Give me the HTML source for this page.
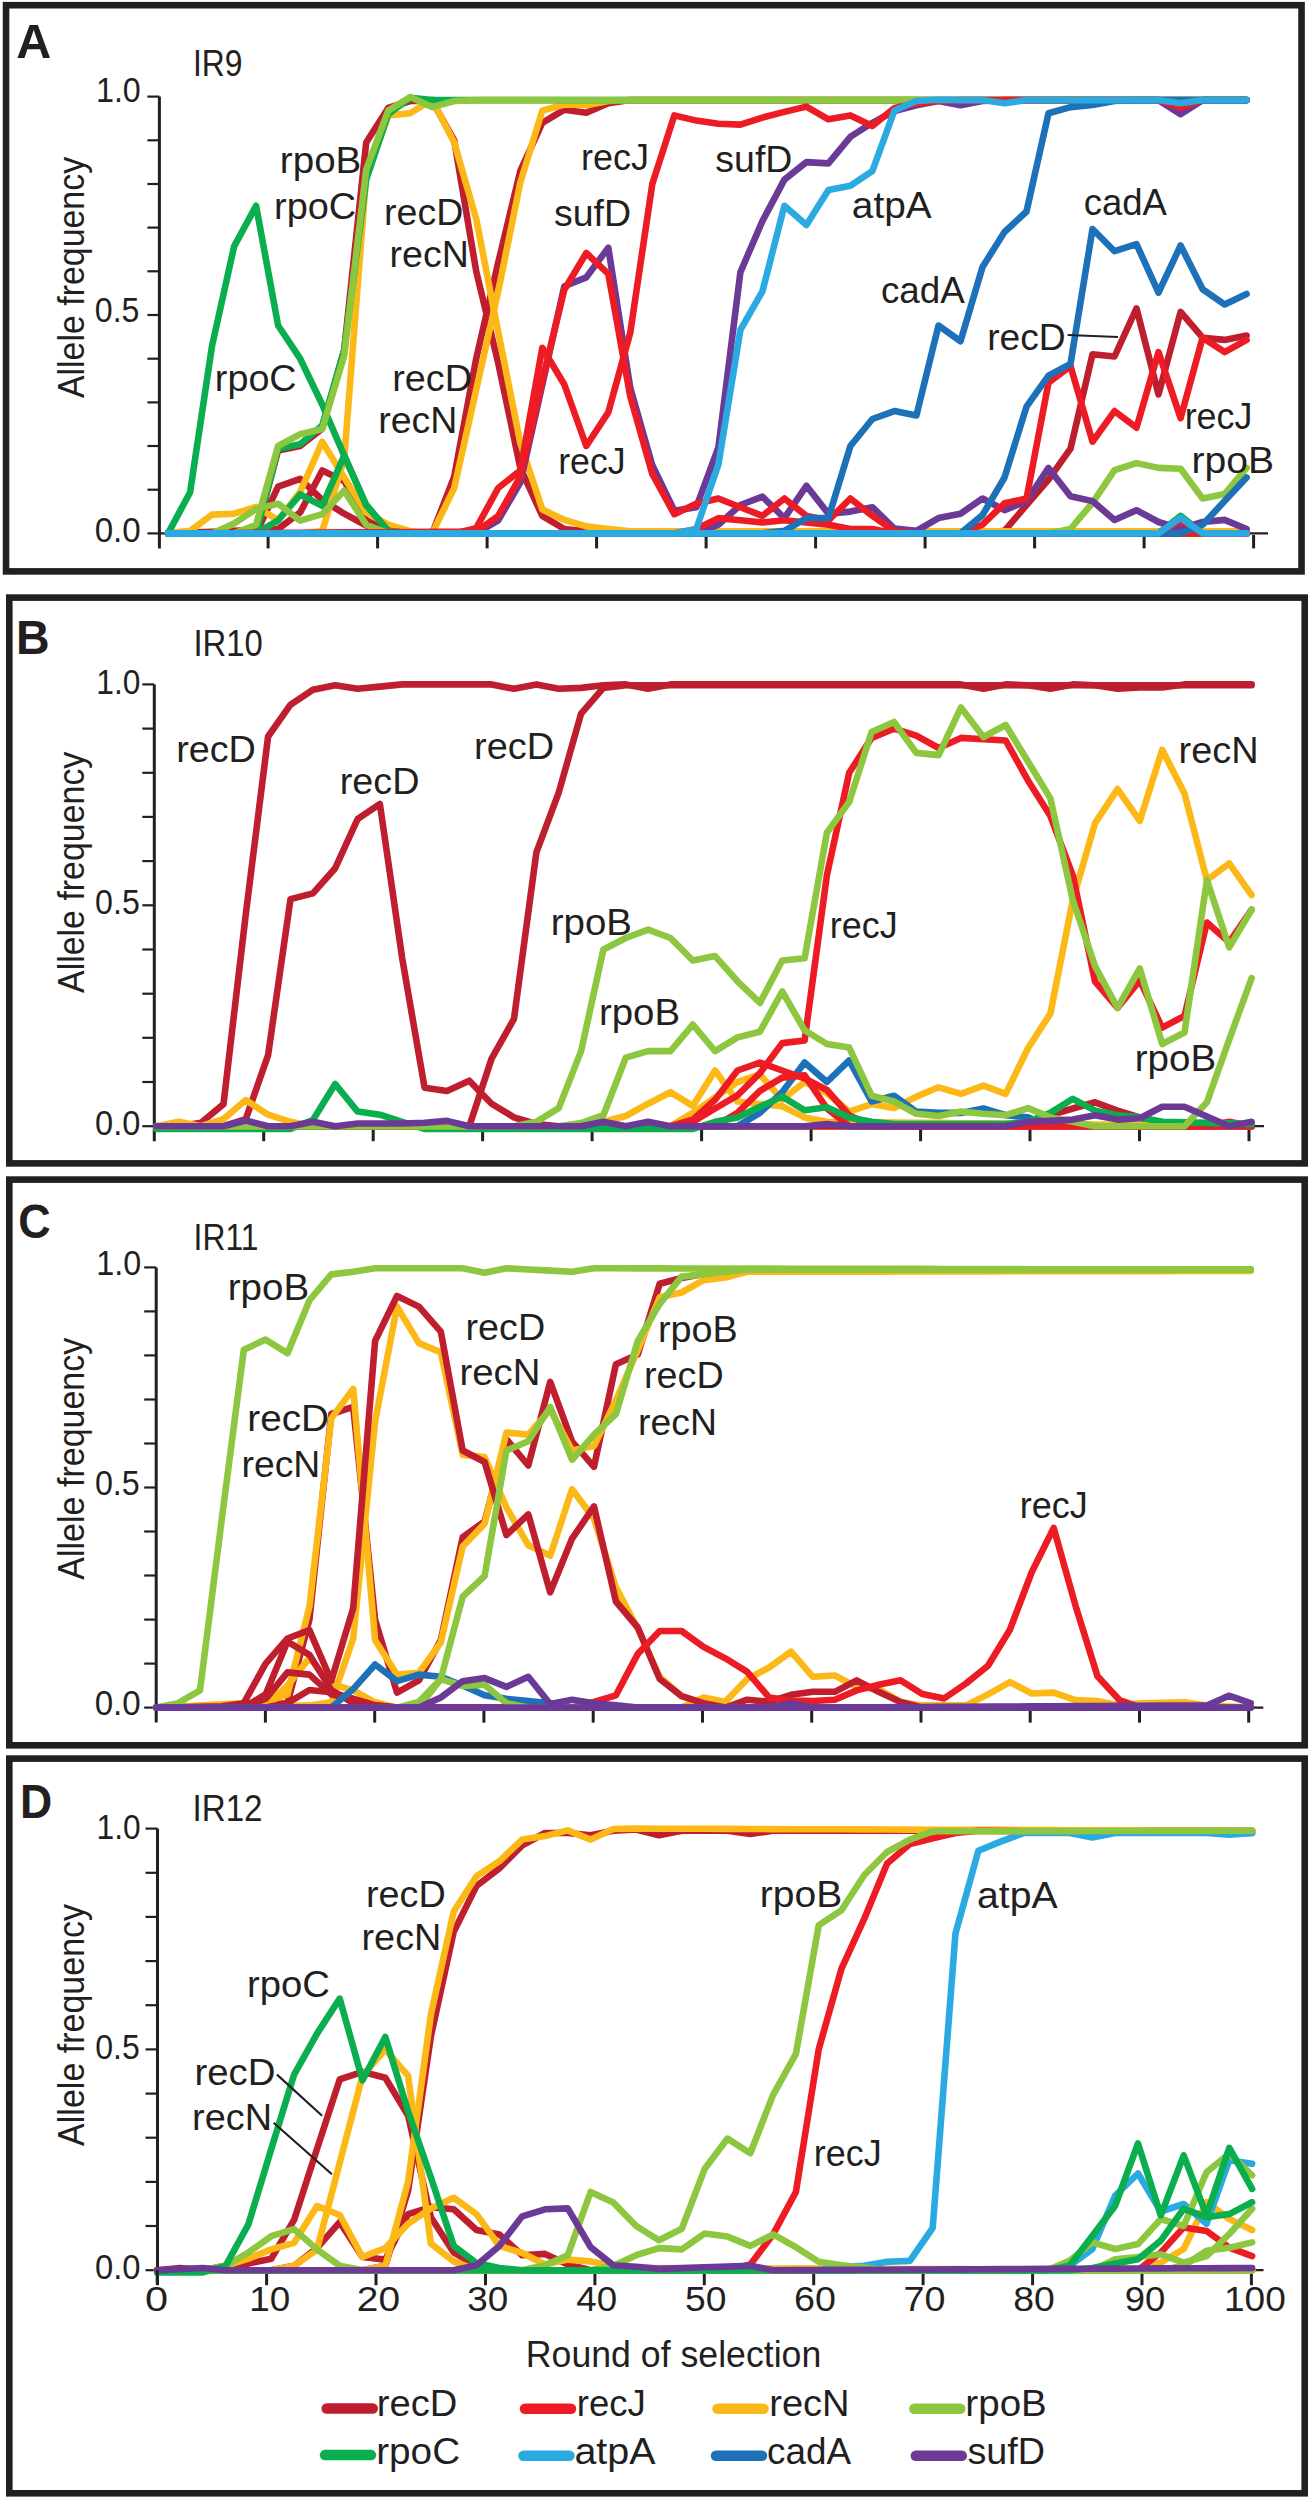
<!DOCTYPE html>
<html><head><meta charset="utf-8"><style>
html,body{margin:0;padding:0;background:#fff;}
svg{display:block;}
text{font-family:"Liberation Sans",sans-serif;fill:#231F20;}
</style></head><body>
<svg width="1311" height="2500" viewBox="0 0 1311 2500">
<rect width="1311" height="2500" fill="#fff"/>
<rect x="6.05" y="5.2" width="1295.5" height="566.2" fill="none" stroke="#231F20" stroke-width="6.6"/>
<line x1="159.4" y1="96.6" x2="159.4" y2="548.4" stroke="#231F20" stroke-width="3"/>
<line x1="147.4" y1="533.4" x2="159.4" y2="533.4" stroke="#231F20" stroke-width="2.2"/>
<line x1="147.4" y1="489.7" x2="159.4" y2="489.7" stroke="#231F20" stroke-width="2.2"/>
<line x1="147.4" y1="446.0" x2="159.4" y2="446.0" stroke="#231F20" stroke-width="2.2"/>
<line x1="147.4" y1="402.4" x2="159.4" y2="402.4" stroke="#231F20" stroke-width="2.2"/>
<line x1="147.4" y1="358.7" x2="159.4" y2="358.7" stroke="#231F20" stroke-width="2.2"/>
<line x1="147.4" y1="315.0" x2="159.4" y2="315.0" stroke="#231F20" stroke-width="2.2"/>
<line x1="147.4" y1="271.3" x2="159.4" y2="271.3" stroke="#231F20" stroke-width="2.2"/>
<line x1="147.4" y1="227.6" x2="159.4" y2="227.6" stroke="#231F20" stroke-width="2.2"/>
<line x1="147.4" y1="184.0" x2="159.4" y2="184.0" stroke="#231F20" stroke-width="2.2"/>
<line x1="147.4" y1="140.3" x2="159.4" y2="140.3" stroke="#231F20" stroke-width="2.2"/>
<line x1="147.4" y1="96.6" x2="159.4" y2="96.6" stroke="#231F20" stroke-width="2.2"/>
<line x1="159.4" y1="533.4" x2="1268" y2="533.4" stroke="#231F20" stroke-width="2.2"/>
<line x1="268.1" y1="534.9" x2="268.1" y2="548.4" stroke="#231F20" stroke-width="3"/>
<line x1="377.6" y1="534.9" x2="377.6" y2="548.4" stroke="#231F20" stroke-width="3"/>
<line x1="487.1" y1="534.9" x2="487.1" y2="548.4" stroke="#231F20" stroke-width="3"/>
<line x1="596.6" y1="534.9" x2="596.6" y2="548.4" stroke="#231F20" stroke-width="3"/>
<line x1="706.1" y1="534.9" x2="706.1" y2="548.4" stroke="#231F20" stroke-width="3"/>
<line x1="815.6" y1="534.9" x2="815.6" y2="548.4" stroke="#231F20" stroke-width="3"/>
<line x1="925.1" y1="534.9" x2="925.1" y2="548.4" stroke="#231F20" stroke-width="3"/>
<line x1="1034.6" y1="534.9" x2="1034.6" y2="548.4" stroke="#231F20" stroke-width="3"/>
<line x1="1144.1" y1="534.9" x2="1144.1" y2="548.4" stroke="#231F20" stroke-width="3"/>
<line x1="1253.6" y1="534.9" x2="1253.6" y2="548.4" stroke="#231F20" stroke-width="3"/>
<polyline points="168.1,533.4 190.1,533.4 212.1,533.4 234.1,533.4 256.1,533.4 278.1,450.4 300.2,446.0 322.2,428.6 344.2,349.9 366.2,142.5 388.2,108.0 410.2,101.0 432.2,101.0 454.2,140.3 476.2,271.3 498.2,363.0 520.3,467.9 542.3,515.9 564.3,529.0 586.3,531.2 608.3,531.2 630.3,531.2 652.3,531.2 674.3,531.2 696.3,531.2 718.4,531.2 740.4,531.2 762.4,531.2 784.4,531.2 806.4,531.2 828.4,531.2 850.4,531.2 872.4,531.2 894.4,531.2 916.4,531.2 938.5,531.2 960.5,531.2 982.5,531.2 1004.5,531.2 1026.5,531.2 1048.5,531.2 1070.5,531.2 1092.5,531.2 1114.5,531.2 1136.5,531.2 1158.5,531.2 1180.6,531.2 1202.6,531.2 1224.6,531.2 1246.6,531.2" fill="none" stroke="#BE1E2D" stroke-width="6.6" stroke-linejoin="round" stroke-linecap="round"/>
<polyline points="168.1,533.4 190.1,533.4 212.1,533.4 234.1,533.4 256.1,533.4 278.1,486.7 300.2,478.8 322.2,499.8 344.2,513.7 366.2,525.5 388.2,533.4 410.2,533.4 432.2,533.4 454.2,533.4 476.2,533.4 498.2,533.4 520.3,533.4 542.3,533.4 564.3,533.4 586.3,533.4 608.3,533.4 630.3,533.4 652.3,533.4 674.3,533.4 696.3,533.4 718.4,533.4 740.4,533.4 762.4,533.4 784.4,533.4 806.4,533.4 828.4,533.4 850.4,533.4 872.4,533.4 894.4,533.4 916.4,533.4 938.5,533.4 960.5,533.4 982.5,533.4 1004.5,533.4 1026.5,533.4 1048.5,533.4 1070.5,533.4 1092.5,533.4 1114.5,533.4 1136.5,533.4 1158.5,533.4 1180.6,533.4 1202.6,533.4 1224.6,533.4 1246.6,533.4" fill="none" stroke="#BE1E2D" stroke-width="6.6" stroke-linejoin="round" stroke-linecap="round"/>
<polyline points="168.1,533.4 190.1,532.5 212.1,531.7 234.1,530.8 256.1,529.9 278.1,529.0 300.2,512.4 322.2,470.5 344.2,481.0 366.2,520.3 388.2,531.2 410.2,533.4 432.2,533.4 454.2,533.4 476.2,533.4 498.2,533.4 520.3,533.4 542.3,533.4 564.3,533.4 586.3,533.4 608.3,533.4 630.3,533.4 652.3,533.4 674.3,533.4 696.3,533.4 718.4,533.4 740.4,533.4 762.4,533.4 784.4,533.4 806.4,533.4 828.4,533.4 850.4,533.4 872.4,533.4 894.4,533.4 916.4,533.4 938.5,533.4 960.5,533.4 982.5,533.4 1004.5,533.4 1026.5,533.4 1048.5,533.4 1070.5,533.4 1092.5,533.4 1114.5,533.4 1136.5,533.4 1158.5,533.4 1180.6,533.4 1202.6,533.4 1224.6,533.4 1246.6,533.4" fill="none" stroke="#BE1E2D" stroke-width="6.6" stroke-linejoin="round" stroke-linecap="round"/>
<polyline points="168.1,533.4 190.1,533.4 212.1,533.4 234.1,533.4 256.1,533.4 278.1,533.4 300.2,533.4 322.2,533.4 344.2,533.4 366.2,533.4 388.2,533.4 410.2,533.4 432.2,533.4 454.2,476.6 476.2,358.7 498.2,262.6 520.3,170.9 542.3,122.8 564.3,109.7 586.3,112.8 608.3,103.2 630.3,100.1 652.3,100.1 674.3,100.1 696.3,100.1 718.4,100.1 740.4,100.1 762.4,100.1 784.4,100.1 806.4,100.1 828.4,100.1 850.4,100.1 872.4,100.1 894.4,100.1 916.4,100.1 938.5,100.1 960.5,100.1 982.5,100.1 1004.5,100.1 1026.5,100.1 1048.5,100.1 1070.5,100.1 1092.5,100.1 1114.5,100.1 1136.5,100.1 1158.5,100.1 1180.6,100.1 1202.6,100.1 1224.6,100.1 1246.6,100.1" fill="none" stroke="#BE1E2D" stroke-width="6.6" stroke-linejoin="round" stroke-linecap="round"/>
<polyline points="168.1,533.4 190.1,533.4 212.1,533.4 234.1,533.4 256.1,533.4 278.1,533.4 300.2,533.4 322.2,533.4 344.2,533.4 366.2,533.4 388.2,533.4 410.2,533.4 432.2,533.4 454.2,533.4 476.2,533.4 498.2,533.4 520.3,533.4 542.3,533.4 564.3,533.4 586.3,533.4 608.3,533.4 630.3,533.4 652.3,533.4 674.3,533.4 696.3,533.4 718.4,533.4 740.4,533.4 762.4,533.4 784.4,533.4 806.4,533.4 828.4,533.4 850.4,533.4 872.4,533.4 894.4,533.4 916.4,533.4 938.5,533.4 960.5,533.4 982.5,533.4 1004.5,530.8 1026.5,505.0 1048.5,479.7 1070.5,448.7 1092.5,354.3 1114.5,356.5 1136.5,308.4 1158.5,394.5 1180.6,311.9 1202.6,337.7 1224.6,339.9 1246.6,335.5" fill="none" stroke="#BE1E2D" stroke-width="6.6" stroke-linejoin="round" stroke-linecap="round"/>
<polyline points="168.1,533.4 190.1,530.8 212.1,514.6 234.1,513.7 256.1,506.8 278.1,520.3 300.2,491.9 322.2,441.7 344.2,477.5 366.2,512.4 388.2,524.7 410.2,531.2 432.2,533.4 454.2,533.4 476.2,533.4 498.2,533.4 520.3,533.4 542.3,533.4 564.3,533.4 586.3,533.4 608.3,533.4 630.3,533.4 652.3,533.4 674.3,533.4 696.3,533.4 718.4,533.4 740.4,533.4 762.4,533.4 784.4,533.4 806.4,533.4 828.4,533.4 850.4,533.4 872.4,533.4 894.4,533.4 916.4,533.4 938.5,533.4 960.5,533.4 982.5,533.4 1004.5,533.4 1026.5,533.4 1048.5,533.4 1070.5,533.4 1092.5,533.4 1114.5,533.4 1136.5,533.4 1158.5,533.4 1180.6,533.4 1202.6,533.4 1224.6,533.4 1246.6,533.4" fill="none" stroke="#FCB817" stroke-width="6.6" stroke-linejoin="round" stroke-linecap="round"/>
<polyline points="168.1,533.4 190.1,533.4 212.1,533.4 234.1,533.4 256.1,533.4 278.1,533.4 300.2,533.4 322.2,531.2 344.2,459.1 366.2,176.1 388.2,115.4 410.2,113.2 432.2,99.7 454.2,142.5 476.2,218.9 498.2,332.0 520.3,443.0 542.3,509.4 564.3,519.9 586.3,526.4 608.3,529.0 630.3,531.2 652.3,531.2 674.3,531.2 696.3,531.2 718.4,531.2 740.4,531.2 762.4,531.2 784.4,531.2 806.4,531.2 828.4,531.2 850.4,531.2 872.4,531.2 894.4,531.2 916.4,531.2 938.5,531.2 960.5,531.2 982.5,531.2 1004.5,531.2 1026.5,531.2 1048.5,531.2 1070.5,531.2 1092.5,531.2 1114.5,531.2 1136.5,531.2 1158.5,531.2 1180.6,531.2 1202.6,531.2 1224.6,531.2 1246.6,531.2" fill="none" stroke="#FCB817" stroke-width="6.6" stroke-linejoin="round" stroke-linecap="round"/>
<polyline points="168.1,533.4 190.1,533.4 212.1,533.4 234.1,533.4 256.1,533.4 278.1,533.4 300.2,533.4 322.2,533.4 344.2,533.4 366.2,533.4 388.2,533.4 410.2,533.4 432.2,533.4 454.2,488.0 476.2,389.7 498.2,291.4 520.3,182.6 542.3,110.6 564.3,104.5 586.3,105.3 608.3,101.0 630.3,100.1 652.3,100.1 674.3,100.1 696.3,100.1 718.4,100.1 740.4,100.1 762.4,100.1 784.4,100.1 806.4,100.1 828.4,100.1 850.4,100.1 872.4,100.1 894.4,100.1 916.4,100.1 938.5,100.1 960.5,100.1 982.5,100.1 1004.5,100.1 1026.5,100.1 1048.5,100.1 1070.5,100.1 1092.5,100.1 1114.5,100.1 1136.5,100.1 1158.5,100.1 1180.6,100.1 1202.6,100.1 1224.6,100.1 1246.6,100.1" fill="none" stroke="#FCB817" stroke-width="6.6" stroke-linejoin="round" stroke-linecap="round"/>
<polyline points="168.1,533.4 190.1,492.3 212.1,345.6 234.1,246.4 256.1,205.8 278.1,325.5 300.2,358.7 322.2,404.5 344.2,455.6 366.2,505.0 388.2,530.8 410.2,533.4 432.2,533.4 454.2,533.4 476.2,533.4 498.2,533.4 520.3,533.4 542.3,533.4 564.3,533.4 586.3,533.4 608.3,533.4 630.3,533.4 652.3,533.4 674.3,533.4 696.3,533.4 718.4,533.4 740.4,533.4 762.4,533.4 784.4,533.4 806.4,533.4 828.4,533.4 850.4,533.4 872.4,533.4 894.4,533.4 916.4,533.4 938.5,533.4 960.5,533.4 982.5,533.4 1004.5,533.4 1026.5,533.4 1048.5,533.4 1070.5,533.4 1092.5,533.4 1114.5,533.4 1136.5,533.4 1158.5,533.4 1180.6,533.4 1202.6,533.4 1224.6,533.4 1246.6,533.4" fill="none" stroke="#0AAE4F" stroke-width="6.6" stroke-linejoin="round" stroke-linecap="round"/>
<polyline points="168.1,533.4 190.1,533.4 212.1,533.4 234.1,533.4 256.1,533.4 278.1,520.3 300.2,494.5 322.2,505.9 344.2,455.6 366.2,505.0 388.2,530.8 410.2,533.4 432.2,533.4 454.2,533.4 476.2,533.4 498.2,533.4 520.3,533.4 542.3,533.4 564.3,533.4 586.3,533.4 608.3,533.4 630.3,533.4 652.3,533.4 674.3,533.4 696.3,533.4 718.4,533.4 740.4,533.4 762.4,533.4 784.4,533.4 806.4,533.4 828.4,533.4 850.4,533.4 872.4,533.4 894.4,533.4 916.4,533.4 938.5,533.4 960.5,533.4 982.5,533.4 1004.5,533.4 1026.5,533.4 1048.5,533.4 1070.5,533.4 1092.5,533.4 1114.5,533.4 1136.5,533.4 1158.5,533.4 1180.6,515.9 1202.6,533.4 1224.6,533.4 1246.6,533.4" fill="none" stroke="#0AAE4F" stroke-width="6.6" stroke-linejoin="round" stroke-linecap="round"/>
<polyline points="168.1,533.4 190.1,533.4 212.1,533.4 234.1,533.4 256.1,533.4 278.1,448.7 300.2,444.3 322.2,425.5 344.2,349.9 366.2,179.6 388.2,114.1 410.2,97.9 432.2,100.1 454.2,100.1 476.2,100.1 498.2,100.1 520.3,100.1 542.3,100.1 564.3,100.1 586.3,100.1 608.3,100.1 630.3,100.1 652.3,100.1 674.3,100.1 696.3,100.1 718.4,100.1 740.4,100.1 762.4,100.1 784.4,100.1 806.4,100.1 828.4,100.1 850.4,100.1 872.4,100.1 894.4,100.1 916.4,100.1 938.5,100.1 960.5,100.1 982.5,100.1 1004.5,100.1 1026.5,100.1 1048.5,100.1 1070.5,100.1 1092.5,100.1 1114.5,100.1 1136.5,100.1 1158.5,100.1 1180.6,100.1 1202.6,100.1 1224.6,100.1 1246.6,100.1" fill="none" stroke="#0AAE4F" stroke-width="6.6" stroke-linejoin="round" stroke-linecap="round"/>
<polyline points="168.1,533.4 190.1,533.4 212.1,533.4 234.1,523.4 256.1,508.9 278.1,503.7 300.2,520.7 322.2,514.2 344.2,490.6 366.2,524.7 388.2,533.4 410.2,533.4 432.2,533.4 454.2,533.4 476.2,533.4 498.2,533.4 520.3,533.4 542.3,533.4 564.3,533.4 586.3,533.4 608.3,533.4 630.3,533.4 652.3,533.4 674.3,533.4 696.3,533.4 718.4,533.4 740.4,533.4 762.4,533.4 784.4,533.4 806.4,533.4 828.4,533.4 850.4,533.4 872.4,533.4 894.4,533.4 916.4,533.4 938.5,533.4 960.5,533.4 982.5,533.4 1004.5,533.4 1026.5,533.4 1048.5,533.4 1070.5,529.0 1092.5,502.8 1114.5,470.1 1136.5,463.1 1158.5,467.9 1180.6,468.8 1202.6,498.5 1224.6,494.1 1246.6,467.9" fill="none" stroke="#8DC63F" stroke-width="6.6" stroke-linejoin="round" stroke-linecap="round"/>
<polyline points="168.1,533.4 190.1,533.4 212.1,533.4 234.1,533.4 256.1,524.7 278.1,446.0 300.2,434.2 322.2,429.0 344.2,355.6 366.2,169.5 388.2,110.6 410.2,97.0 432.2,107.1 454.2,101.0 476.2,100.1 498.2,100.1 520.3,100.1 542.3,100.1 564.3,100.1 586.3,100.1 608.3,100.1 630.3,100.1 652.3,100.1 674.3,100.1 696.3,100.1 718.4,100.1 740.4,100.1 762.4,100.1 784.4,100.1 806.4,100.1 828.4,100.1 850.4,100.1 872.4,100.1 894.4,100.1 916.4,100.1 938.5,100.1 960.5,100.1 982.5,100.1 1004.5,100.1 1026.5,100.1 1048.5,100.1 1070.5,100.1 1092.5,100.1 1114.5,100.1 1136.5,100.1 1158.5,100.1 1180.6,100.1 1202.6,100.1 1224.6,100.1 1246.6,100.1" fill="none" stroke="#8DC63F" stroke-width="6.6" stroke-linejoin="round" stroke-linecap="round"/>
<polyline points="168.1,533.4 190.1,533.4 212.1,533.4 234.1,533.4 256.1,533.4 278.1,533.4 300.2,533.4 322.2,533.4 344.2,533.4 366.2,533.4 388.2,533.4 410.2,533.4 432.2,533.4 454.2,533.4 476.2,533.4 498.2,520.3 520.3,482.7 542.3,384.9 564.3,286.2 586.3,277.4 608.3,247.7 630.3,387.9 652.3,465.3 674.3,510.7 696.3,507.2 718.4,447.4 740.4,272.2 762.4,221.1 784.4,179.6 806.4,162.1 828.4,163.4 850.4,136.8 872.4,122.8 894.4,111.0 916.4,105.3 938.5,101.0 960.5,105.3 982.5,101.0 1004.5,100.1 1026.5,100.1 1048.5,100.1 1070.5,100.1 1092.5,100.1 1114.5,100.1 1136.5,100.1 1158.5,100.1 1180.6,114.1 1202.6,100.1 1224.6,100.1 1246.6,100.1" fill="none" stroke="#6B3A97" stroke-width="6.6" stroke-linejoin="round" stroke-linecap="round"/>
<polyline points="168.1,533.4 190.1,533.4 212.1,533.4 234.1,533.4 256.1,533.4 278.1,533.4 300.2,533.4 322.2,533.4 344.2,533.4 366.2,533.4 388.2,533.4 410.2,533.4 432.2,533.4 454.2,533.4 476.2,533.4 498.2,533.4 520.3,533.4 542.3,533.4 564.3,533.4 586.3,533.4 608.3,533.4 630.3,533.4 652.3,533.4 674.3,533.4 696.3,533.4 718.4,524.7 740.4,505.0 762.4,496.7 784.4,518.1 806.4,485.8 828.4,513.7 850.4,511.6 872.4,507.2 894.4,528.6 916.4,530.8 938.5,518.1 960.5,513.7 982.5,498.5 1004.5,510.2 1026.5,501.1 1048.5,467.9 1070.5,496.3 1092.5,501.1 1114.5,519.9 1136.5,510.2 1158.5,522.0 1180.6,529.0 1202.6,522.0 1224.6,519.9 1246.6,529.0" fill="none" stroke="#6B3A97" stroke-width="6.6" stroke-linejoin="round" stroke-linecap="round"/>
<polyline points="168.1,533.4 190.1,533.3 212.1,533.2 234.1,533.0 256.1,532.9 278.1,532.8 300.2,532.7 322.2,532.5 344.2,532.4 366.2,532.3 388.2,532.2 410.2,532.0 432.2,531.9 454.2,531.8 476.2,531.7 498.2,515.9 520.3,476.6 542.3,380.5 564.3,289.7 586.3,253.0 608.3,273.9 630.3,396.7 652.3,474.0 674.3,514.2 696.3,503.7 718.4,498.5 740.4,507.2 762.4,515.9 784.4,498.5 806.4,515.9 828.4,520.3 850.4,498.5 872.4,515.9 894.4,531.2 916.4,533.4 938.5,533.4 960.5,533.4 982.5,533.4 1004.5,533.4 1026.5,533.4 1048.5,533.4 1070.5,533.4 1092.5,533.4 1114.5,533.4 1136.5,533.4 1158.5,533.4 1180.6,533.4 1202.6,533.4 1224.6,533.4 1246.6,533.4" fill="none" stroke="#ED1C24" stroke-width="6.6" stroke-linejoin="round" stroke-linecap="round"/>
<polyline points="168.1,533.4 190.1,533.4 212.1,533.4 234.1,533.4 256.1,533.4 278.1,533.4 300.2,533.4 322.2,533.4 344.2,533.4 366.2,533.4 388.2,533.4 410.2,533.4 432.2,533.4 454.2,533.4 476.2,528.2 498.2,488.0 520.3,470.5 542.3,347.8 564.3,384.5 586.3,446.0 608.3,412.4 630.3,332.5 652.3,184.0 674.3,115.4 696.3,120.6 718.4,123.7 740.4,124.6 762.4,117.6 784.4,111.9 806.4,106.6 828.4,119.3 850.4,115.4 872.4,125.9 894.4,108.0 916.4,103.6 938.5,101.0 960.5,100.1 982.5,100.1 1004.5,100.1 1026.5,100.1 1048.5,100.1 1070.5,100.1 1092.5,100.1 1114.5,100.1 1136.5,100.1 1158.5,100.1 1180.6,107.5 1202.6,100.1 1224.6,100.1 1246.6,100.1" fill="none" stroke="#ED1C24" stroke-width="6.6" stroke-linejoin="round" stroke-linecap="round"/>
<polyline points="168.1,533.4 190.1,533.4 212.1,533.4 234.1,533.4 256.1,533.4 278.1,533.4 300.2,533.4 322.2,533.4 344.2,533.4 366.2,533.4 388.2,533.4 410.2,533.4 432.2,533.4 454.2,533.4 476.2,533.4 498.2,533.4 520.3,533.4 542.3,533.4 564.3,533.4 586.3,533.4 608.3,533.4 630.3,533.4 652.3,533.4 674.3,533.4 696.3,529.0 718.4,518.1 740.4,520.3 762.4,522.5 784.4,520.3 806.4,522.5 828.4,524.7 850.4,529.0 872.4,529.0 894.4,533.4 916.4,533.4 938.5,533.4 960.5,533.4 982.5,533.4 1004.5,533.4 1026.5,533.4 1048.5,533.4 1070.5,533.4 1092.5,533.4 1114.5,533.4 1136.5,533.4 1158.5,533.4 1180.6,520.3 1202.6,533.4 1224.6,533.4 1246.6,533.4" fill="none" stroke="#ED1C24" stroke-width="6.6" stroke-linejoin="round" stroke-linecap="round"/>
<polyline points="168.1,533.4 190.1,533.4 212.1,533.4 234.1,533.4 256.1,533.4 278.1,533.4 300.2,533.4 322.2,533.4 344.2,533.4 366.2,533.4 388.2,533.4 410.2,533.4 432.2,533.4 454.2,533.4 476.2,533.4 498.2,533.4 520.3,533.4 542.3,533.4 564.3,533.4 586.3,533.4 608.3,533.4 630.3,533.4 652.3,533.4 674.3,533.4 696.3,533.4 718.4,533.4 740.4,533.4 762.4,533.4 784.4,533.4 806.4,533.4 828.4,533.4 850.4,533.4 872.4,533.4 894.4,533.4 916.4,533.4 938.5,533.4 960.5,533.4 982.5,524.7 1004.5,503.3 1026.5,498.5 1048.5,382.7 1070.5,366.1 1092.5,441.7 1114.5,411.1 1136.5,427.7 1158.5,352.1 1180.6,418.1 1202.6,337.7 1224.6,352.1 1246.6,339.9" fill="none" stroke="#ED1C24" stroke-width="6.6" stroke-linejoin="round" stroke-linecap="round"/>
<polyline points="168.1,533.4 190.1,533.4 212.1,533.4 234.1,533.4 256.1,533.4 278.1,533.4 300.2,533.4 322.2,533.4 344.2,533.4 366.2,533.4 388.2,533.4 410.2,533.4 432.2,533.4 454.2,533.4 476.2,533.4 498.2,533.4 520.3,533.4 542.3,533.4 564.3,533.4 586.3,533.4 608.3,533.4 630.3,533.4 652.3,533.4 674.3,533.4 696.3,533.4 718.4,533.4 740.4,533.4 762.4,533.4 784.4,530.8 806.4,518.1 828.4,518.1 850.4,446.0 872.4,419.0 894.4,411.1 916.4,415.5 938.5,325.5 960.5,341.2 982.5,267.0 1004.5,232.0 1026.5,211.5 1048.5,113.2 1070.5,107.1 1092.5,104.9 1114.5,101.0 1136.5,100.1 1158.5,100.1 1180.6,100.1 1202.6,100.1 1224.6,100.1 1246.6,100.1" fill="none" stroke="#1D71B8" stroke-width="6.6" stroke-linejoin="round" stroke-linecap="round"/>
<polyline points="168.1,533.4 190.1,533.4 212.1,533.4 234.1,533.4 256.1,533.4 278.1,533.4 300.2,533.4 322.2,533.4 344.2,533.4 366.2,533.4 388.2,533.4 410.2,533.4 432.2,533.4 454.2,533.4 476.2,533.4 498.2,533.4 520.3,533.4 542.3,533.4 564.3,533.4 586.3,533.4 608.3,533.4 630.3,533.4 652.3,533.4 674.3,533.4 696.3,533.4 718.4,533.4 740.4,533.4 762.4,533.4 784.4,533.4 806.4,533.4 828.4,533.4 850.4,533.4 872.4,533.4 894.4,533.4 916.4,533.4 938.5,533.4 960.5,533.4 982.5,515.1 1004.5,477.5 1026.5,406.7 1048.5,375.7 1070.5,363.9 1092.5,229.0 1114.5,251.2 1136.5,244.2 1158.5,292.7 1180.6,245.5 1202.6,289.2 1224.6,304.5 1246.6,294.0" fill="none" stroke="#1D71B8" stroke-width="6.6" stroke-linejoin="round" stroke-linecap="round"/>
<polyline points="168.1,533.4 190.1,533.4 212.1,533.4 234.1,533.4 256.1,533.4 278.1,533.4 300.2,533.4 322.2,533.4 344.2,533.4 366.2,533.4 388.2,533.4 410.2,533.4 432.2,533.4 454.2,533.4 476.2,533.4 498.2,533.4 520.3,533.4 542.3,533.4 564.3,533.4 586.3,533.4 608.3,533.4 630.3,533.4 652.3,533.4 674.3,533.4 696.3,533.4 718.4,533.4 740.4,533.4 762.4,533.4 784.4,533.4 806.4,533.4 828.4,533.4 850.4,533.4 872.4,533.4 894.4,533.4 916.4,533.4 938.5,533.4 960.5,533.4 982.5,533.4 1004.5,533.4 1026.5,533.4 1048.5,533.4 1070.5,533.4 1092.5,533.4 1114.5,533.4 1136.5,533.4 1158.5,533.4 1180.6,533.4 1202.6,524.7 1224.6,501.1 1246.6,477.5" fill="none" stroke="#1D71B8" stroke-width="6.6" stroke-linejoin="round" stroke-linecap="round"/>
<polyline points="168.1,533.4 190.1,533.4 212.1,533.4 234.1,533.4 256.1,533.4 278.1,533.4 300.2,533.4 322.2,533.4 344.2,533.4 366.2,533.4 388.2,533.4 410.2,533.4 432.2,533.4 454.2,533.4 476.2,533.4 498.2,533.4 520.3,533.4 542.3,533.4 564.3,533.4 586.3,533.4 608.3,533.4 630.3,533.4 652.3,533.4 674.3,533.4 696.3,529.0 718.4,464.4 740.4,329.9 762.4,291.4 784.4,205.8 806.4,225.0 828.4,190.1 850.4,185.7 872.4,170.9 894.4,110.6 916.4,101.0 938.5,99.7 960.5,100.1 982.5,100.1 1004.5,103.2 1026.5,100.1 1048.5,100.1 1070.5,100.1 1092.5,100.1 1114.5,100.1 1136.5,100.1 1158.5,100.1 1180.6,103.2 1202.6,100.1 1224.6,100.1 1246.6,100.1" fill="none" stroke="#2BAAE2" stroke-width="6.6" stroke-linejoin="round" stroke-linecap="round"/>
<polyline points="168.1,533.4 190.1,533.4 212.1,533.4 234.1,533.4 256.1,533.4 278.1,533.4 300.2,533.4 322.2,533.4 344.2,533.4 366.2,533.4 388.2,533.4 410.2,533.4 432.2,533.4 454.2,533.4 476.2,533.4 498.2,533.4 520.3,533.4 542.3,533.4 564.3,533.4 586.3,533.4 608.3,533.4 630.3,533.4 652.3,533.4 674.3,533.4 696.3,533.4 718.4,533.4 740.4,533.4 762.4,533.4 784.4,533.4 806.4,533.4 828.4,533.4 850.4,533.4 872.4,533.4 894.4,533.4 916.4,533.4 938.5,533.4 960.5,533.4 982.5,533.4 1004.5,533.4 1026.5,533.4 1048.5,533.4 1070.5,533.4 1092.5,533.4 1114.5,533.4 1136.5,533.4 1158.5,533.4 1180.6,517.7 1202.6,533.4 1224.6,533.4 1246.6,533.4" fill="none" stroke="#2BAAE2" stroke-width="6.6" stroke-linejoin="round" stroke-linecap="round"/>
<text x="16.29" y="58" font-size="48.3" font-weight="bold" textLength="35.03" lengthAdjust="spacingAndGlyphs">A</text>
<text x="192.96" y="76.4" font-size="36" font-weight="normal" textLength="49.51" lengthAdjust="spacingAndGlyphs">IR9</text>
<text x="95.98" y="102" font-size="35.5" font-weight="normal" textLength="44.83" lengthAdjust="spacingAndGlyphs">1.0</text>
<text x="94.81" y="321.7" font-size="35.5" font-weight="normal" textLength="44.68" lengthAdjust="spacingAndGlyphs">0.5</text>
<text x="94.67" y="542" font-size="35.5" font-weight="normal" textLength="46.08" lengthAdjust="spacingAndGlyphs">0.0</text>
<text x="279.89" y="173.4" font-size="36" font-weight="normal" textLength="81.42" lengthAdjust="spacingAndGlyphs">rpoB</text>
<text x="274.04" y="218.5" font-size="36" font-weight="normal" textLength="82.08" lengthAdjust="spacingAndGlyphs">rpoC</text>
<text x="384.06" y="225.2" font-size="36" font-weight="normal" textLength="79.18" lengthAdjust="spacingAndGlyphs">recD</text>
<text x="389.56" y="267.3" font-size="36" font-weight="normal" textLength="79.19" lengthAdjust="spacingAndGlyphs">recN</text>
<text x="214.85" y="390.8" font-size="36" font-weight="normal" textLength="81.77" lengthAdjust="spacingAndGlyphs">rpoC</text>
<text x="392.25" y="391.3" font-size="36" font-weight="normal" textLength="79.70" lengthAdjust="spacingAndGlyphs">recD</text>
<text x="378.16" y="433.3" font-size="36" font-weight="normal" textLength="79.19" lengthAdjust="spacingAndGlyphs">recN</text>
<text x="581.06" y="170.3" font-size="36" font-weight="normal" textLength="68.01" lengthAdjust="spacingAndGlyphs">recJ</text>
<text x="553.97" y="225.6" font-size="36" font-weight="normal" textLength="77.06" lengthAdjust="spacingAndGlyphs">sufD</text>
<text x="558.18" y="473.6" font-size="36" font-weight="normal" textLength="67.47" lengthAdjust="spacingAndGlyphs">recJ</text>
<text x="715.37" y="171.5" font-size="36" font-weight="normal" textLength="76.96" lengthAdjust="spacingAndGlyphs">sufD</text>
<text x="851.85" y="218.1" font-size="36" font-weight="normal" textLength="79.83" lengthAdjust="spacingAndGlyphs">atpA</text>
<text x="880.94" y="303.2" font-size="36" font-weight="normal" textLength="83.93" lengthAdjust="spacingAndGlyphs">cadA</text>
<text x="1083.75" y="214.8" font-size="36" font-weight="normal" textLength="83.22" lengthAdjust="spacingAndGlyphs">cadA</text>
<text x="987.18" y="349.6" font-size="36" font-weight="normal" textLength="78.54" lengthAdjust="spacingAndGlyphs">recD</text>
<text x="1184.67" y="428.8" font-size="36" font-weight="normal" textLength="67.69" lengthAdjust="spacingAndGlyphs">recJ</text>
<text x="1191.46" y="472.5" font-size="36" font-weight="normal" textLength="82.59" lengthAdjust="spacingAndGlyphs">rpoB</text>
<text x="0" y="0" font-size="36" textLength="241.19" lengthAdjust="spacingAndGlyphs" transform="translate(83.8,398.08) rotate(-90)">Allele frequency</text>
<line x1="1067.6" y1="335" x2="1118" y2="337" stroke="#231F20" stroke-width="2.2"/>
<rect x="9.3" y="597.6" width="1295.4" height="565.8" fill="none" stroke="#231F20" stroke-width="6.6"/>
<line x1="154.3" y1="684.4" x2="154.3" y2="1141.2" stroke="#231F20" stroke-width="3"/>
<line x1="142.3" y1="1126.2" x2="154.3" y2="1126.2" stroke="#231F20" stroke-width="2.2"/>
<line x1="142.3" y1="1082.0" x2="154.3" y2="1082.0" stroke="#231F20" stroke-width="2.2"/>
<line x1="142.3" y1="1037.8" x2="154.3" y2="1037.8" stroke="#231F20" stroke-width="2.2"/>
<line x1="142.3" y1="993.7" x2="154.3" y2="993.7" stroke="#231F20" stroke-width="2.2"/>
<line x1="142.3" y1="949.5" x2="154.3" y2="949.5" stroke="#231F20" stroke-width="2.2"/>
<line x1="142.3" y1="905.3" x2="154.3" y2="905.3" stroke="#231F20" stroke-width="2.2"/>
<line x1="142.3" y1="861.1" x2="154.3" y2="861.1" stroke="#231F20" stroke-width="2.2"/>
<line x1="142.3" y1="816.9" x2="154.3" y2="816.9" stroke="#231F20" stroke-width="2.2"/>
<line x1="142.3" y1="772.8" x2="154.3" y2="772.8" stroke="#231F20" stroke-width="2.2"/>
<line x1="142.3" y1="728.6" x2="154.3" y2="728.6" stroke="#231F20" stroke-width="2.2"/>
<line x1="142.3" y1="684.4" x2="154.3" y2="684.4" stroke="#231F20" stroke-width="2.2"/>
<line x1="154.3" y1="1126.2" x2="1264" y2="1126.2" stroke="#231F20" stroke-width="2.2"/>
<line x1="263.7" y1="1127.7" x2="263.7" y2="1141.2" stroke="#231F20" stroke-width="3"/>
<line x1="373.2" y1="1127.7" x2="373.2" y2="1141.2" stroke="#231F20" stroke-width="3"/>
<line x1="482.6" y1="1127.7" x2="482.6" y2="1141.2" stroke="#231F20" stroke-width="3"/>
<line x1="592.1" y1="1127.7" x2="592.1" y2="1141.2" stroke="#231F20" stroke-width="3"/>
<line x1="701.6" y1="1127.7" x2="701.6" y2="1141.2" stroke="#231F20" stroke-width="3"/>
<line x1="811.1" y1="1127.7" x2="811.1" y2="1141.2" stroke="#231F20" stroke-width="3"/>
<line x1="920.6" y1="1127.7" x2="920.6" y2="1141.2" stroke="#231F20" stroke-width="3"/>
<line x1="1030.0" y1="1127.7" x2="1030.0" y2="1141.2" stroke="#231F20" stroke-width="3"/>
<line x1="1139.5" y1="1127.7" x2="1139.5" y2="1141.2" stroke="#231F20" stroke-width="3"/>
<line x1="1249.0" y1="1127.7" x2="1249.0" y2="1141.2" stroke="#231F20" stroke-width="3"/>
<polyline points="156.4,1126.2 178.8,1126.2 201.1,1122.7 223.5,1104.1 245.8,914.1 268.1,736.5 290.5,704.7 312.9,689.7 335.2,685.3 357.6,688.8 379.9,686.6 402.2,684.4 424.6,684.4 447.0,684.4 469.3,684.4 491.6,684.4 514.0,688.8 536.4,684.4 558.7,688.8 581.1,687.9 603.4,685.3 625.8,684.4 648.1,688.8 670.5,684.4 692.8,684.4 715.1,684.4 737.5,684.4 759.9,684.4 782.2,684.4 804.6,684.4 826.9,684.4 849.2,684.4 871.6,684.4 894.0,684.4 916.3,684.4 938.6,684.4 961.0,684.4 983.4,688.8 1005.7,684.4 1028.1,685.3 1050.4,688.8 1072.8,684.4 1095.1,685.3 1117.5,688.8 1139.8,687.5 1162.2,687.5 1184.5,684.4 1206.9,684.4 1229.2,684.4 1251.6,684.4" fill="none" stroke="#BE1E2D" stroke-width="6.6" stroke-linejoin="round" stroke-linecap="round"/>
<polyline points="156.4,1126.2 178.8,1126.2 201.1,1126.2 223.5,1126.2 245.8,1119.1 268.1,1055.1 290.5,899.1 312.9,893.4 335.2,868.2 357.6,819.1 379.9,804.1 402.2,958.3 424.6,1087.8 447.0,1090.9 469.3,1080.7 491.6,1103.7 514.0,1117.4 536.4,1124.0 558.7,1126.2 581.1,1126.2 603.4,1126.2 625.8,1126.2 648.1,1126.2 670.5,1126.2 692.8,1126.2 715.1,1126.2 737.5,1126.2 759.9,1126.2 782.2,1126.2 804.6,1126.2 826.9,1126.2 849.2,1126.2 871.6,1126.2 894.0,1126.2 916.3,1126.2 938.6,1126.2 961.0,1126.2 983.4,1126.2 1005.7,1126.2 1028.1,1126.2 1050.4,1126.2 1072.8,1126.2 1095.1,1126.2 1117.5,1126.2 1139.8,1126.2 1162.2,1126.2 1184.5,1126.2 1206.9,1126.2 1229.2,1126.2 1251.6,1126.2" fill="none" stroke="#BE1E2D" stroke-width="6.6" stroke-linejoin="round" stroke-linecap="round"/>
<polyline points="156.4,1126.2 178.8,1126.2 201.1,1126.2 223.5,1126.2 245.8,1126.2 268.1,1126.2 290.5,1126.2 312.9,1126.2 335.2,1126.2 357.6,1126.2 379.9,1126.2 402.2,1126.2 424.6,1126.2 447.0,1126.2 469.3,1126.2 491.6,1058.6 514.0,1018.8 536.4,852.3 558.7,792.6 581.1,713.6 603.4,687.9 625.8,685.3 648.1,685.3 670.5,685.3 692.8,685.3 715.1,685.3 737.5,685.3 759.9,685.3 782.2,685.3 804.6,685.3 826.9,685.3 849.2,685.3 871.6,685.3 894.0,685.3 916.3,685.3 938.6,685.3 961.0,685.3 983.4,685.3 1005.7,685.3 1028.1,685.3 1050.4,685.3 1072.8,685.3 1095.1,685.3 1117.5,685.3 1139.8,685.3 1162.2,685.3 1184.5,685.3 1206.9,685.3 1229.2,685.3 1251.6,685.3" fill="none" stroke="#BE1E2D" stroke-width="6.6" stroke-linejoin="round" stroke-linecap="round"/>
<polyline points="156.4,1126.2 178.8,1126.2 201.1,1126.2 223.5,1126.2 245.8,1126.2 268.1,1126.2 290.5,1126.2 312.9,1126.2 335.2,1126.2 357.6,1126.2 379.9,1126.2 402.2,1126.2 424.6,1126.2 447.0,1126.2 469.3,1126.2 491.6,1126.2 514.0,1126.2 536.4,1126.2 558.7,1126.2 581.1,1126.2 603.4,1126.2 625.8,1126.2 648.1,1126.2 670.5,1126.2 692.8,1126.2 715.1,1126.2 737.5,1126.2 759.9,1126.2 782.2,1126.2 804.6,1126.2 826.9,1126.2 849.2,1126.2 871.6,1126.2 894.0,1126.2 916.3,1126.2 938.6,1126.2 961.0,1126.2 983.4,1126.2 1005.7,1126.2 1028.1,1126.2 1050.4,1115.2 1072.8,1108.5 1095.1,1102.3 1117.5,1110.7 1139.8,1117.4 1162.2,1126.2 1184.5,1126.2 1206.9,1126.2 1229.2,1126.2 1251.6,1126.2" fill="none" stroke="#BE1E2D" stroke-width="6.6" stroke-linejoin="round" stroke-linecap="round"/>
<polyline points="156.4,1126.2 178.8,1121.8 201.1,1126.2 223.5,1119.1 245.8,1100.1 268.1,1114.7 290.5,1121.8 312.9,1126.2 335.2,1126.2 357.6,1126.2 379.9,1126.2 402.2,1126.2 424.6,1126.2 447.0,1126.2 469.3,1126.2 491.6,1126.2 514.0,1126.2 536.4,1126.2 558.7,1126.2 581.1,1126.2 603.4,1121.8 625.8,1116.0 648.1,1103.7 670.5,1092.2 692.8,1105.9 715.1,1070.5 737.5,1101.5 759.9,1104.1 782.2,1106.3 804.6,1117.4 826.9,1121.8 849.2,1122.0 871.6,1122.2 894.0,1122.5 916.3,1122.7 938.6,1122.9 961.0,1123.2 983.4,1123.4 1005.7,1123.6 1028.1,1123.9 1050.4,1124.1 1072.8,1124.3 1095.1,1124.6 1117.5,1124.8 1139.8,1125.0 1162.2,1125.3 1184.5,1125.5 1206.9,1125.7 1229.2,1126.0 1251.6,1126.2" fill="none" stroke="#FCB817" stroke-width="6.6" stroke-linejoin="round" stroke-linecap="round"/>
<polyline points="156.4,1126.2 178.8,1126.2 201.1,1126.2 223.5,1126.2 245.8,1126.2 268.1,1126.2 290.5,1126.2 312.9,1126.2 335.2,1126.2 357.6,1126.2 379.9,1126.2 402.2,1126.2 424.6,1126.2 447.0,1126.2 469.3,1126.2 491.6,1126.2 514.0,1126.2 536.4,1126.2 558.7,1126.2 581.1,1126.2 603.4,1126.2 625.8,1126.2 648.1,1126.2 670.5,1126.2 692.8,1112.9 715.1,1097.5 737.5,1082.0 759.9,1074.5 782.2,1099.7 804.6,1082.0 826.9,1093.1 849.2,1111.6 871.6,1104.1 894.0,1108.1 916.3,1096.6 938.6,1087.3 961.0,1093.9 983.4,1085.6 1005.7,1093.9 1028.1,1048.0 1050.4,1013.5 1072.8,900.0 1095.1,823.1 1117.5,789.1 1139.8,820.9 1162.2,749.8 1184.5,793.5 1206.9,880.1 1229.2,863.3 1251.6,895.1" fill="none" stroke="#FCB817" stroke-width="6.6" stroke-linejoin="round" stroke-linecap="round"/>
<polyline points="156.4,1126.2 178.8,1126.2 201.1,1126.2 223.5,1126.2 245.8,1126.2 268.1,1126.2 290.5,1126.2 312.9,1126.2 335.2,1126.2 357.6,1126.2 379.9,1126.2 402.2,1126.2 424.6,1126.2 447.0,1126.2 469.3,1126.2 491.6,1126.2 514.0,1126.2 536.4,1126.2 558.7,1126.2 581.1,1126.2 603.4,1126.2 625.8,1126.2 648.1,1126.2 670.5,1126.2 692.8,1126.2 715.1,1126.2 737.5,1126.2 759.9,1112.9 782.2,1092.2 804.6,1062.6 826.9,1082.0 849.2,1060.4 871.6,1101.5 894.0,1095.7 916.3,1111.6 938.6,1112.9 961.0,1112.9 983.4,1108.5 1005.7,1115.2 1028.1,1117.4 1050.4,1126.2 1072.8,1126.2 1095.1,1126.2 1117.5,1126.2 1139.8,1126.2 1162.2,1126.2 1184.5,1126.2 1206.9,1126.2 1229.2,1126.2 1251.6,1126.2" fill="none" stroke="#1D71B8" stroke-width="6.6" stroke-linejoin="round" stroke-linecap="round"/>
<polyline points="156.4,1126.2 178.8,1126.2 201.1,1126.2 223.5,1126.2 245.8,1126.2 268.1,1126.2 290.5,1126.2 312.9,1126.2 335.2,1126.2 357.6,1126.2 379.9,1126.2 402.2,1126.2 424.6,1126.2 447.0,1126.2 469.3,1126.2 491.6,1126.2 514.0,1126.2 536.4,1126.2 558.7,1126.2 581.1,1126.2 603.4,1126.2 625.8,1126.2 648.1,1126.2 670.5,1126.2 692.8,1121.8 715.1,1108.5 737.5,1095.3 759.9,1073.2 782.2,1043.1 804.6,1040.5 826.9,875.3 849.2,772.8 871.6,737.9 894.0,728.6 916.3,735.6 938.6,748.0 961.0,737.9 983.4,739.2 1005.7,740.5 1028.1,780.7 1050.4,816.1 1072.8,875.3 1095.1,981.7 1117.5,1007.8 1139.8,980.4 1162.2,1027.7 1184.5,1015.8 1206.9,922.5 1229.2,942.4 1251.6,909.7" fill="none" stroke="#ED1C24" stroke-width="6.6" stroke-linejoin="round" stroke-linecap="round"/>
<polyline points="156.4,1126.2 178.8,1126.2 201.1,1126.2 223.5,1126.2 245.8,1126.2 268.1,1126.2 290.5,1126.2 312.9,1126.2 335.2,1126.2 357.6,1126.2 379.9,1126.2 402.2,1126.2 424.6,1126.2 447.0,1126.2 469.3,1126.2 491.6,1126.2 514.0,1126.2 536.4,1126.2 558.7,1126.2 581.1,1126.2 603.4,1126.2 625.8,1126.2 648.1,1126.2 670.5,1126.2 692.8,1119.6 715.1,1099.7 737.5,1070.5 759.9,1062.6 782.2,1070.5 804.6,1078.5 826.9,1090.0 849.2,1115.2 871.6,1126.2 894.0,1126.2 916.3,1126.2 938.6,1126.2 961.0,1126.2 983.4,1126.2 1005.7,1126.2 1028.1,1126.2 1050.4,1126.2 1072.8,1126.2 1095.1,1126.2 1117.5,1126.2 1139.8,1126.2 1162.2,1126.2 1184.5,1126.2 1206.9,1126.2 1229.2,1126.2 1251.6,1126.2" fill="none" stroke="#ED1C24" stroke-width="6.6" stroke-linejoin="round" stroke-linecap="round"/>
<polyline points="156.4,1126.2 178.8,1126.2 201.1,1126.2 223.5,1126.2 245.8,1126.2 268.1,1126.2 290.5,1126.2 312.9,1126.2 335.2,1126.2 357.6,1126.2 379.9,1126.2 402.2,1126.2 424.6,1126.2 447.0,1126.2 469.3,1126.2 491.6,1126.2 514.0,1126.2 536.4,1126.2 558.7,1126.2 581.1,1126.2 603.4,1126.2 625.8,1126.2 648.1,1126.2 670.5,1126.2 692.8,1126.2 715.1,1126.2 737.5,1112.9 759.9,1090.9 782.2,1077.6 804.6,1075.4 826.9,1108.5 849.2,1126.2 871.6,1126.2 894.0,1126.2 916.3,1126.2 938.6,1126.2 961.0,1126.2 983.4,1126.2 1005.7,1126.2 1028.1,1126.2 1050.4,1126.2 1072.8,1126.2 1095.1,1126.2 1117.5,1126.2 1139.8,1126.2 1162.2,1126.2 1184.5,1126.2 1206.9,1126.2 1229.2,1121.8 1251.6,1126.2" fill="none" stroke="#ED1C24" stroke-width="6.6" stroke-linejoin="round" stroke-linecap="round"/>
<polyline points="156.4,1128.9 178.8,1128.9 201.1,1128.9 223.5,1128.9 245.8,1128.9 268.1,1128.9 290.5,1128.9 312.9,1120.0 335.2,1084.0 357.6,1111.6 379.9,1114.7 402.2,1121.8 424.6,1128.9 447.0,1128.9 469.3,1128.9 491.6,1128.9 514.0,1128.9 536.4,1128.9 558.7,1128.9 581.1,1128.9 603.4,1128.9 625.8,1128.9 648.1,1128.9 670.5,1128.9 692.8,1128.9 715.1,1121.8 737.5,1117.4 759.9,1106.8 782.2,1096.6 804.6,1110.3 826.9,1107.2 849.2,1117.4 871.6,1121.8 894.0,1124.0 916.3,1124.0 938.6,1124.0 961.0,1124.0 983.4,1124.0 1005.7,1124.0 1028.1,1121.8 1050.4,1112.9 1072.8,1098.8 1095.1,1110.7 1117.5,1115.2 1139.8,1117.4 1162.2,1121.8 1184.5,1122.3 1206.9,1122.9 1229.2,1123.4 1251.6,1124.0" fill="none" stroke="#0AAE4F" stroke-width="6.6" stroke-linejoin="round" stroke-linecap="round"/>
<polyline points="156.4,1126.2 178.8,1126.2 201.1,1126.2 223.5,1126.2 245.8,1126.2 268.1,1126.2 290.5,1126.2 312.9,1126.2 335.2,1126.2 357.6,1126.2 379.9,1126.2 402.2,1126.2 424.6,1126.2 447.0,1126.2 469.3,1126.2 491.6,1126.2 514.0,1126.2 536.4,1121.8 558.7,1108.1 581.1,1051.1 603.4,949.5 625.8,938.0 648.1,929.6 670.5,938.0 692.8,960.5 715.1,956.1 737.5,981.3 759.9,1002.9 782.2,960.5 804.6,958.3 826.9,832.8 849.2,801.9 871.6,732.1 894.0,722.0 916.3,752.9 938.6,755.1 961.0,707.4 983.4,737.0 1005.7,725.0 1028.1,761.7 1050.4,798.4 1072.8,900.0 1095.1,966.3 1117.5,1007.8 1139.8,968.5 1162.2,1044.0 1184.5,1032.5 1206.9,880.1 1229.2,947.3 1251.6,909.7" fill="none" stroke="#8DC63F" stroke-width="6.6" stroke-linejoin="round" stroke-linecap="round"/>
<polyline points="156.4,1126.2 178.8,1126.2 201.1,1126.2 223.5,1126.2 245.8,1126.2 268.1,1126.2 290.5,1126.2 312.9,1126.2 335.2,1126.2 357.6,1126.2 379.9,1126.2 402.2,1126.2 424.6,1126.2 447.0,1126.2 469.3,1126.2 491.6,1126.2 514.0,1126.2 536.4,1126.2 558.7,1126.2 581.1,1123.1 603.4,1115.2 625.8,1057.7 648.1,1051.1 670.5,1051.1 692.8,1024.6 715.1,1051.1 737.5,1037.4 759.9,1031.7 782.2,991.5 804.6,1030.3 826.9,1044.0 849.2,1047.6 871.6,1095.7 894.0,1101.5 916.3,1113.8 938.6,1116.0 961.0,1111.6 983.4,1113.8 1005.7,1115.2 1028.1,1108.1 1050.4,1117.4 1072.8,1121.8 1095.1,1126.2 1117.5,1126.2 1139.8,1126.2 1162.2,1126.2 1184.5,1126.2 1206.9,1102.3 1229.2,1039.6 1251.6,978.2" fill="none" stroke="#8DC63F" stroke-width="6.6" stroke-linejoin="round" stroke-linecap="round"/>
<polyline points="156.4,1126.2 178.8,1126.2 201.1,1126.2 223.5,1126.2 245.8,1120.5 268.1,1126.2 290.5,1126.2 312.9,1121.8 335.2,1126.2 357.6,1123.5 379.9,1123.5 402.2,1123.5 424.6,1122.7 447.0,1120.9 469.3,1126.2 491.6,1126.2 514.0,1126.2 536.4,1126.2 558.7,1126.2 581.1,1126.2 603.4,1121.8 625.8,1126.2 648.1,1121.8 670.5,1126.2 692.8,1126.2 715.1,1126.2 737.5,1126.2 759.9,1126.2 782.2,1126.2 804.6,1126.2 826.9,1124.0 849.2,1126.2 871.6,1126.2 894.0,1126.2 916.3,1126.2 938.6,1126.2 961.0,1126.2 983.4,1126.2 1005.7,1126.2 1028.1,1121.8 1050.4,1120.9 1072.8,1119.6 1095.1,1115.2 1117.5,1119.6 1139.8,1118.2 1162.2,1106.8 1184.5,1106.8 1206.9,1116.5 1229.2,1126.2 1251.6,1121.8" fill="none" stroke="#6B3A97" stroke-width="6.6" stroke-linejoin="round" stroke-linecap="round"/>
<text x="16.06" y="653.8" font-size="48.3" font-weight="bold" textLength="33.62" lengthAdjust="spacingAndGlyphs">B</text>
<text x="193.46" y="656.2" font-size="36" font-weight="normal" textLength="69.35" lengthAdjust="spacingAndGlyphs">IR10</text>
<text x="96.32" y="694" font-size="35.5" font-weight="normal" textLength="44.07" lengthAdjust="spacingAndGlyphs">1.0</text>
<text x="95.11" y="914" font-size="35.5" font-weight="normal" textLength="44.68" lengthAdjust="spacingAndGlyphs">0.5</text>
<text x="95.10" y="1134.5" font-size="35.5" font-weight="normal" textLength="45.33" lengthAdjust="spacingAndGlyphs">0.0</text>
<text x="176.15" y="761.8" font-size="36" font-weight="normal" textLength="79.70" lengthAdjust="spacingAndGlyphs">recD</text>
<text x="339.75" y="793.9" font-size="36" font-weight="normal" textLength="79.70" lengthAdjust="spacingAndGlyphs">recD</text>
<text x="474.14" y="759.3" font-size="36" font-weight="normal" textLength="80.02" lengthAdjust="spacingAndGlyphs">recD</text>
<text x="550.80" y="935.2" font-size="36" font-weight="normal" textLength="81.21" lengthAdjust="spacingAndGlyphs">rpoB</text>
<text x="598.90" y="1025.2" font-size="36" font-weight="normal" textLength="81.11" lengthAdjust="spacingAndGlyphs">rpoB</text>
<text x="829.86" y="937.8" font-size="36" font-weight="normal" textLength="67.90" lengthAdjust="spacingAndGlyphs">recJ</text>
<text x="1178.64" y="762.9" font-size="36" font-weight="normal" textLength="80.05" lengthAdjust="spacingAndGlyphs">recN</text>
<text x="1134.79" y="1071.4" font-size="36" font-weight="normal" textLength="81.42" lengthAdjust="spacingAndGlyphs">rpoB</text>
<text x="0" y="0" font-size="36" textLength="241.29" lengthAdjust="spacingAndGlyphs" transform="translate(83.8,992.98) rotate(-90)">Allele frequency</text>
<rect x="9.3" y="1179.6" width="1295.4" height="565.7" fill="none" stroke="#231F20" stroke-width="6.6"/>
<line x1="156.2" y1="1267.4" x2="156.2" y2="1722.6" stroke="#231F20" stroke-width="3"/>
<line x1="144.2" y1="1707.6" x2="156.2" y2="1707.6" stroke="#231F20" stroke-width="2.2"/>
<line x1="144.2" y1="1663.6" x2="156.2" y2="1663.6" stroke="#231F20" stroke-width="2.2"/>
<line x1="144.2" y1="1619.6" x2="156.2" y2="1619.6" stroke="#231F20" stroke-width="2.2"/>
<line x1="144.2" y1="1575.5" x2="156.2" y2="1575.5" stroke="#231F20" stroke-width="2.2"/>
<line x1="144.2" y1="1531.5" x2="156.2" y2="1531.5" stroke="#231F20" stroke-width="2.2"/>
<line x1="144.2" y1="1487.5" x2="156.2" y2="1487.5" stroke="#231F20" stroke-width="2.2"/>
<line x1="144.2" y1="1443.5" x2="156.2" y2="1443.5" stroke="#231F20" stroke-width="2.2"/>
<line x1="144.2" y1="1399.5" x2="156.2" y2="1399.5" stroke="#231F20" stroke-width="2.2"/>
<line x1="144.2" y1="1355.4" x2="156.2" y2="1355.4" stroke="#231F20" stroke-width="2.2"/>
<line x1="144.2" y1="1311.4" x2="156.2" y2="1311.4" stroke="#231F20" stroke-width="2.2"/>
<line x1="144.2" y1="1267.4" x2="156.2" y2="1267.4" stroke="#231F20" stroke-width="2.2"/>
<line x1="156.2" y1="1707.6" x2="1263.3" y2="1707.6" stroke="#231F20" stroke-width="2.2"/>
<line x1="265.4" y1="1709.1" x2="265.4" y2="1722.6" stroke="#231F20" stroke-width="3"/>
<line x1="374.7" y1="1709.1" x2="374.7" y2="1722.6" stroke="#231F20" stroke-width="3"/>
<line x1="483.9" y1="1709.1" x2="483.9" y2="1722.6" stroke="#231F20" stroke-width="3"/>
<line x1="593.2" y1="1709.1" x2="593.2" y2="1722.6" stroke="#231F20" stroke-width="3"/>
<line x1="702.5" y1="1709.1" x2="702.5" y2="1722.6" stroke="#231F20" stroke-width="3"/>
<line x1="811.7" y1="1709.1" x2="811.7" y2="1722.6" stroke="#231F20" stroke-width="3"/>
<line x1="921.0" y1="1709.1" x2="921.0" y2="1722.6" stroke="#231F20" stroke-width="3"/>
<line x1="1030.2" y1="1709.1" x2="1030.2" y2="1722.6" stroke="#231F20" stroke-width="3"/>
<line x1="1139.5" y1="1709.1" x2="1139.5" y2="1722.6" stroke="#231F20" stroke-width="3"/>
<line x1="1248.7" y1="1709.1" x2="1248.7" y2="1722.6" stroke="#231F20" stroke-width="3"/>
<polyline points="156.2,1707.6 178.1,1706.9 200.0,1706.1 221.9,1705.4 243.8,1704.7 265.6,1703.9 287.5,1703.2 309.4,1619.6 331.3,1414.0 353.2,1406.9 375.1,1619.6 397.0,1692.6 418.9,1680.3 440.8,1640.2 462.7,1537.2 484.6,1521.4 506.4,1439.1 528.3,1465.5 550.2,1381.9 572.1,1441.7 594.0,1466.8 615.9,1364.2 637.8,1354.6 659.7,1283.7 681.6,1278.0 703.5,1274.0 725.3,1271.8 747.2,1269.6 769.1,1269.6 791.0,1269.6 812.9,1269.6 834.8,1269.6 856.7,1269.6 878.6,1269.6 900.5,1269.6 922.3,1269.6 944.2,1269.6 966.1,1269.6 988.0,1269.6 1009.9,1269.6 1031.8,1269.6 1053.7,1269.6 1075.6,1269.6 1097.5,1269.6 1119.4,1269.6 1141.2,1269.6 1163.1,1269.6 1185.0,1269.6 1206.9,1269.6 1228.8,1269.6 1250.7,1269.6" fill="none" stroke="#BE1E2D" stroke-width="6.6" stroke-linejoin="round" stroke-linecap="round"/>
<polyline points="156.2,1707.6 178.1,1707.2 200.0,1706.7 221.9,1706.3 243.8,1705.8 265.6,1705.4 287.5,1685.6 309.4,1657.9 331.3,1683.8 353.2,1690.4 375.1,1702.3 397.0,1707.6 418.9,1707.6 440.8,1707.6 462.7,1707.6 484.6,1707.6 506.4,1707.6 528.3,1707.6 550.2,1707.6 572.1,1707.6 594.0,1707.6 615.9,1707.6 637.8,1707.6 659.7,1707.6 681.6,1707.6 703.5,1697.5 725.3,1701.9 747.2,1679.0 769.1,1667.5 791.0,1651.7 812.9,1676.8 834.8,1675.5 856.7,1686.9 878.6,1689.1 900.5,1701.9 922.3,1705.4 944.2,1705.4 966.1,1705.4 988.0,1694.4 1009.9,1682.1 1031.8,1693.5 1053.7,1692.6 1075.6,1700.1 1097.5,1701.0 1119.4,1705.4 1141.2,1703.2 1163.1,1702.8 1185.0,1702.3 1206.9,1705.4 1228.8,1706.5 1250.7,1707.6" fill="none" stroke="#FCB817" stroke-width="6.6" stroke-linejoin="round" stroke-linecap="round"/>
<polyline points="156.2,1707.6 178.1,1706.5 200.0,1705.5 221.9,1704.4 243.8,1703.4 265.6,1702.3 287.5,1694.4 309.4,1606.8 331.3,1418.4 353.2,1388.9 375.1,1640.2 397.0,1674.6 418.9,1672.8 440.8,1642.5 462.7,1546.5 484.6,1523.6 506.4,1432.5 528.3,1434.7 550.2,1409.6 572.1,1450.5 594.0,1446.1 615.9,1400.3 637.8,1350.2 659.7,1297.3 681.6,1292.5 703.5,1280.2 725.3,1277.5 747.2,1271.8 769.1,1271.8 791.0,1271.7 812.9,1271.7 834.8,1271.6 856.7,1271.6 878.6,1271.6 900.5,1271.5 922.3,1271.5 944.2,1271.5 966.1,1271.4 988.0,1271.4 1009.9,1271.3 1031.8,1271.3 1053.7,1271.3 1075.6,1271.2 1097.5,1271.2 1119.4,1271.2 1141.2,1271.1 1163.1,1271.1 1185.0,1271.0 1206.9,1271.0 1228.8,1271.0 1250.7,1270.9" fill="none" stroke="#FCB817" stroke-width="6.6" stroke-linejoin="round" stroke-linecap="round"/>
<polyline points="156.2,1707.6 178.1,1707.3 200.0,1707.0 221.9,1706.7 243.8,1706.3 265.6,1706.0 287.5,1705.7 309.4,1705.4 331.3,1702.3 353.2,1638.5 375.1,1421.5 397.0,1306.6 418.9,1343.1 440.8,1352.4 462.7,1454.9 484.6,1457.1 506.4,1507.3 528.3,1545.2 550.2,1555.7 572.1,1489.3 594.0,1518.8 615.9,1587.4 637.8,1628.8 659.7,1676.8 681.6,1696.2 703.5,1703.2 725.3,1707.6 747.2,1707.6 769.1,1707.6 791.0,1707.6 812.9,1707.6 834.8,1707.6 856.7,1707.6 878.6,1707.6 900.5,1707.6 922.3,1707.6 944.2,1707.6 966.1,1707.6 988.0,1707.6 1009.9,1707.6 1031.8,1707.6 1053.7,1707.6 1075.6,1707.6 1097.5,1707.6 1119.4,1707.6 1141.2,1707.6 1163.1,1707.6 1185.0,1707.6 1206.9,1707.6 1228.8,1707.6 1250.7,1707.6" fill="none" stroke="#FCB817" stroke-width="6.6" stroke-linejoin="round" stroke-linecap="round"/>
<polyline points="156.2,1707.6 178.1,1707.6 200.0,1707.6 221.9,1707.6 243.8,1707.6 265.6,1694.4 287.5,1641.6 309.4,1654.8 331.3,1690.0 353.2,1703.2 375.1,1707.6 397.0,1707.6 418.9,1707.6 440.8,1707.6 462.7,1707.6 484.6,1707.6 506.4,1707.6 528.3,1707.6 550.2,1707.6 572.1,1707.6 594.0,1707.6 615.9,1707.6 637.8,1707.6 659.7,1707.6 681.6,1707.6 703.5,1707.6 725.3,1707.6 747.2,1707.6 769.1,1707.6 791.0,1707.6 812.9,1707.6 834.8,1707.6 856.7,1707.6 878.6,1707.6 900.5,1707.6 922.3,1707.6 944.2,1707.6 966.1,1707.6 988.0,1707.6 1009.9,1707.6 1031.8,1707.6 1053.7,1707.6 1075.6,1707.6 1097.5,1707.6 1119.4,1707.6 1141.2,1707.6 1163.1,1707.6 1185.0,1707.6 1206.9,1707.6 1228.8,1707.6 1250.7,1707.6" fill="none" stroke="#BE1E2D" stroke-width="6.6" stroke-linejoin="round" stroke-linecap="round"/>
<polyline points="156.2,1707.6 178.1,1707.6 200.0,1707.6 221.9,1707.6 243.8,1707.6 265.6,1707.6 287.5,1703.2 309.4,1690.0 331.3,1692.2 353.2,1698.8 375.1,1705.4 397.0,1707.6 418.9,1707.6 440.8,1707.6 462.7,1707.6 484.6,1707.6 506.4,1707.6 528.3,1707.6 550.2,1707.6 572.1,1707.6 594.0,1707.6 615.9,1707.6 637.8,1707.6 659.7,1707.6 681.6,1707.6 703.5,1707.6 725.3,1707.6 747.2,1707.6 769.1,1707.6 791.0,1707.6 812.9,1707.6 834.8,1707.6 856.7,1707.6 878.6,1707.6 900.5,1707.6 922.3,1707.6 944.2,1707.6 966.1,1707.6 988.0,1707.6 1009.9,1707.6 1031.8,1707.6 1053.7,1707.6 1075.6,1707.6 1097.5,1707.6 1119.4,1707.6 1141.2,1707.6 1163.1,1707.6 1185.0,1707.6 1206.9,1707.6 1228.8,1707.6 1250.7,1707.6" fill="none" stroke="#BE1E2D" stroke-width="6.6" stroke-linejoin="round" stroke-linecap="round"/>
<polyline points="156.2,1707.6 178.1,1707.6 200.0,1707.6 221.9,1707.6 243.8,1707.6 265.6,1698.8 287.5,1672.4 309.4,1674.6 331.3,1694.4 353.2,1698.8 375.1,1705.4 397.0,1707.6 418.9,1707.6 440.8,1707.6 462.7,1707.6 484.6,1707.6 506.4,1707.6 528.3,1707.6 550.2,1707.6 572.1,1707.6 594.0,1707.6 615.9,1707.6 637.8,1707.6 659.7,1707.6 681.6,1707.6 703.5,1707.6 725.3,1707.6 747.2,1699.7 769.1,1701.9 791.0,1694.8 812.9,1691.8 834.8,1691.8 856.7,1680.3 878.6,1691.8 900.5,1701.9 922.3,1707.6 944.2,1707.6 966.1,1707.6 988.0,1707.6 1009.9,1707.6 1031.8,1707.6 1053.7,1707.6 1075.6,1707.6 1097.5,1707.6 1119.4,1707.6 1141.2,1707.6 1163.1,1707.6 1185.0,1707.6 1206.9,1707.6 1228.8,1707.6 1250.7,1707.6" fill="none" stroke="#BE1E2D" stroke-width="6.6" stroke-linejoin="round" stroke-linecap="round"/>
<polyline points="156.2,1707.6 178.1,1707.2 200.0,1706.7 221.9,1706.3 243.8,1703.2 265.6,1663.6 287.5,1638.5 309.4,1630.1 331.3,1680.7 353.2,1608.1 375.1,1340.9 397.0,1296.0 418.9,1306.6 440.8,1331.7 462.7,1450.5 484.6,1462.0 506.4,1535.0 528.3,1514.4 550.2,1592.3 572.1,1538.6 594.0,1506.4 615.9,1601.5 637.8,1627.5 659.7,1679.0 681.6,1696.2 703.5,1703.2 725.3,1707.6 747.2,1707.6 769.1,1707.6 791.0,1707.6 812.9,1707.6 834.8,1707.6 856.7,1707.6 878.6,1707.6 900.5,1707.6 922.3,1707.6 944.2,1707.6 966.1,1707.6 988.0,1707.6 1009.9,1707.6 1031.8,1707.6 1053.7,1707.6 1075.6,1707.6 1097.5,1707.6 1119.4,1707.6 1141.2,1707.6 1163.1,1707.6 1185.0,1707.6 1206.9,1707.6 1228.8,1707.6 1250.7,1707.6" fill="none" stroke="#BE1E2D" stroke-width="6.6" stroke-linejoin="round" stroke-linecap="round"/>
<polyline points="156.2,1707.6 178.1,1707.6 200.0,1707.6 221.9,1707.6 243.8,1707.6 265.6,1707.6 287.5,1707.6 309.4,1707.6 331.3,1707.6 353.2,1689.1 375.1,1664.5 397.0,1681.2 418.9,1674.6 440.8,1676.8 462.7,1685.6 484.6,1695.3 506.4,1698.8 528.3,1701.0 550.2,1703.2 572.1,1707.6 594.0,1707.6 615.9,1707.6 637.8,1707.6 659.7,1707.6 681.6,1707.6 703.5,1707.6 725.3,1707.6 747.2,1707.6 769.1,1707.6 791.0,1707.6 812.9,1707.6 834.8,1707.6 856.7,1707.6 878.6,1707.6 900.5,1707.6 922.3,1707.6 944.2,1707.6 966.1,1707.6 988.0,1707.6 1009.9,1707.6 1031.8,1707.6 1053.7,1707.6 1075.6,1707.6 1097.5,1707.6 1119.4,1707.6 1141.2,1707.6 1163.1,1707.6 1185.0,1707.6 1206.9,1707.6 1228.8,1707.6 1250.7,1707.6" fill="none" stroke="#1D71B8" stroke-width="6.6" stroke-linejoin="round" stroke-linecap="round"/>
<polyline points="156.2,1707.6 178.1,1707.6 200.0,1707.6 221.9,1707.6 243.8,1707.6 265.6,1707.6 287.5,1707.6 309.4,1707.6 331.3,1707.6 353.2,1707.6 375.1,1707.6 397.0,1707.6 418.9,1707.6 440.8,1707.6 462.7,1707.6 484.6,1707.6 506.4,1707.6 528.3,1707.6 550.2,1707.6 572.1,1707.6 594.0,1701.9 615.9,1695.3 637.8,1653.9 659.7,1631.0 681.6,1631.0 703.5,1646.9 725.3,1658.3 747.2,1671.9 769.1,1697.5 791.0,1700.6 812.9,1701.0 834.8,1699.7 856.7,1690.4 878.6,1684.7 900.5,1680.3 922.3,1694.0 944.2,1698.4 966.1,1683.4 988.0,1665.8 1009.9,1629.7 1031.8,1572.0 1053.7,1528.0 1075.6,1605.9 1097.5,1676.3 1119.4,1700.1 1141.2,1707.6 1163.1,1707.6 1185.0,1707.6 1206.9,1707.6 1228.8,1707.6 1250.7,1707.6" fill="none" stroke="#ED1C24" stroke-width="6.6" stroke-linejoin="round" stroke-linecap="round"/>
<polyline points="156.2,1707.6 178.1,1707.6 200.0,1707.6 221.9,1707.6 243.8,1707.6 265.6,1707.6 287.5,1707.6 309.4,1707.6 331.3,1707.6 353.2,1707.6 375.1,1707.6 397.0,1707.6 418.9,1707.6 440.8,1679.0 462.7,1686.0 484.6,1684.7 506.4,1703.2 528.3,1707.6 550.2,1707.6 572.1,1707.6 594.0,1707.6 615.9,1707.6 637.8,1707.6 659.7,1707.6 681.6,1707.6 703.5,1707.6 725.3,1707.6 747.2,1707.6 769.1,1707.6 791.0,1707.6 812.9,1707.6 834.8,1707.6 856.7,1707.6 878.6,1707.6 900.5,1707.6 922.3,1707.6 944.2,1707.6 966.1,1707.6 988.0,1707.6 1009.9,1707.6 1031.8,1707.6 1053.7,1707.6 1075.6,1707.6 1097.5,1707.6 1119.4,1707.6 1141.2,1707.6 1163.1,1707.6 1185.0,1707.6 1206.9,1707.6 1228.8,1707.6 1250.7,1707.6" fill="none" stroke="#8DC63F" stroke-width="6.6" stroke-linejoin="round" stroke-linecap="round"/>
<polyline points="156.2,1707.6 178.1,1707.6 200.0,1707.6 221.9,1707.6 243.8,1707.6 265.6,1707.6 287.5,1707.6 309.4,1707.6 331.3,1707.6 353.2,1707.6 375.1,1707.6 397.0,1707.6 418.9,1701.9 440.8,1679.0 462.7,1596.7 484.6,1576.0 506.4,1450.5 528.3,1441.3 550.2,1406.9 572.1,1459.8 594.0,1434.7 615.9,1414.0 637.8,1340.9 659.7,1303.9 681.6,1276.6 703.5,1274.4 725.3,1271.8 747.2,1269.6 769.1,1269.6 791.0,1269.6 812.9,1269.6 834.8,1269.6 856.7,1269.6 878.6,1269.6 900.5,1269.6 922.3,1269.6 944.2,1269.6 966.1,1269.6 988.0,1269.6 1009.9,1269.6 1031.8,1269.6 1053.7,1269.6 1075.6,1269.6 1097.5,1269.6 1119.4,1269.6 1141.2,1269.6 1163.1,1269.6 1185.0,1269.6 1206.9,1269.6 1228.8,1269.6 1250.7,1269.6" fill="none" stroke="#8DC63F" stroke-width="6.6" stroke-linejoin="round" stroke-linecap="round"/>
<polyline points="156.2,1707.6 178.1,1703.2 200.0,1690.4 221.9,1518.3 243.8,1349.7 265.6,1339.6 287.5,1353.2 309.4,1300.4 331.3,1274.4 353.2,1271.8 375.1,1268.3 397.0,1268.3 418.9,1268.3 440.8,1268.3 462.7,1268.3 484.6,1272.7 506.4,1268.3 528.3,1269.5 550.2,1270.6 572.1,1271.8 594.0,1268.3 615.9,1268.3 637.8,1268.4 659.7,1268.4 681.6,1268.5 703.5,1268.5 725.3,1268.5 747.2,1268.6 769.1,1268.6 791.0,1268.7 812.9,1268.7 834.8,1268.8 856.7,1268.8 878.6,1268.9 900.5,1268.9 922.3,1268.9 944.2,1269.0 966.1,1269.0 988.0,1269.1 1009.9,1269.1 1031.8,1269.2 1053.7,1269.2 1075.6,1269.2 1097.5,1269.3 1119.4,1269.3 1141.2,1269.4 1163.1,1269.4 1185.0,1269.5 1206.9,1269.5 1228.8,1269.6 1250.7,1269.6" fill="none" stroke="#8DC63F" stroke-width="6.6" stroke-linejoin="round" stroke-linecap="round"/>
<polyline points="156.2,1707.6 178.1,1707.6 200.0,1707.6 221.9,1707.6 243.8,1707.6 265.6,1707.6 287.5,1707.6 309.4,1707.6 331.3,1707.6 353.2,1707.6 375.1,1707.6 397.0,1707.6 418.9,1707.6 440.8,1697.5 462.7,1681.2 484.6,1678.1 506.4,1686.9 528.3,1676.8 550.2,1704.1 572.1,1699.7 594.0,1703.2 615.9,1705.4 637.8,1707.6 659.7,1707.6 681.6,1707.6 703.5,1707.6 725.3,1707.6 747.2,1707.6 769.1,1707.6 791.0,1703.2 812.9,1707.6 834.8,1707.5 856.7,1707.4 878.6,1707.2 900.5,1707.1 922.3,1707.0 944.2,1706.9 966.1,1706.7 988.0,1706.6 1009.9,1706.5 1031.8,1706.4 1053.7,1706.3 1075.6,1706.1 1097.5,1706.0 1119.4,1705.9 1141.2,1705.8 1163.1,1705.6 1185.0,1705.5 1206.9,1705.4 1228.8,1695.7 1250.7,1703.2" fill="none" stroke="#6B3A97" stroke-width="6.6" stroke-linejoin="round" stroke-linecap="round"/>
<polyline points="156.2,1707.6 178.1,1707.6 200.0,1707.6 221.9,1707.6 243.8,1707.6 265.6,1707.6 287.5,1707.6 309.4,1707.6 331.3,1707.6 353.2,1707.6 375.1,1707.6 397.0,1707.6 418.9,1707.6 440.8,1707.6 462.7,1707.6 484.6,1707.6 506.4,1707.6 528.3,1707.6 550.2,1707.6 572.1,1707.6 594.0,1707.6 615.9,1707.6 637.8,1707.6 659.7,1707.6 681.6,1707.6 703.5,1707.6 725.3,1707.6 747.2,1707.6 769.1,1707.6 791.0,1707.6 812.9,1707.6 834.8,1707.6 856.7,1707.6 878.6,1707.6 900.5,1707.6 922.3,1707.6 944.2,1707.6 966.1,1707.6 988.0,1707.6 1009.9,1707.6 1031.8,1707.6 1053.7,1707.6 1075.6,1707.6 1097.5,1707.6 1119.4,1707.6 1141.2,1707.6 1163.1,1707.6 1185.0,1707.6 1206.9,1707.6 1228.8,1707.6 1250.7,1707.6" fill="none" stroke="#6B3A97" stroke-width="6.6" stroke-linejoin="round" stroke-linecap="round"/>
<text x="18.20" y="1237.5" font-size="48.3" font-weight="bold" textLength="32.42" lengthAdjust="spacingAndGlyphs">C</text>
<text x="193.56" y="1250.3" font-size="36" font-weight="normal" textLength="64.88" lengthAdjust="spacingAndGlyphs">IR11</text>
<text x="96.28" y="1275" font-size="35.5" font-weight="normal" textLength="44.94" lengthAdjust="spacingAndGlyphs">1.0</text>
<text x="94.91" y="1495" font-size="35.5" font-weight="normal" textLength="44.89" lengthAdjust="spacingAndGlyphs">0.5</text>
<text x="94.67" y="1715" font-size="35.5" font-weight="normal" textLength="46.08" lengthAdjust="spacingAndGlyphs">0.0</text>
<text x="227.79" y="1299.8" font-size="36" font-weight="normal" textLength="81.42" lengthAdjust="spacingAndGlyphs">rpoB</text>
<text x="247.28" y="1430.9" font-size="36" font-weight="normal" textLength="81.71" lengthAdjust="spacingAndGlyphs">recD</text>
<text x="241.47" y="1476.5" font-size="36" font-weight="normal" textLength="78.87" lengthAdjust="spacingAndGlyphs">recN</text>
<text x="465.55" y="1339.7" font-size="36" font-weight="normal" textLength="79.60" lengthAdjust="spacingAndGlyphs">recD</text>
<text x="459.51" y="1385.3" font-size="36" font-weight="normal" textLength="81.02" lengthAdjust="spacingAndGlyphs">recN</text>
<text x="657.95" y="1341.6" font-size="36" font-weight="normal" textLength="79.73" lengthAdjust="spacingAndGlyphs">rpoB</text>
<text x="644.05" y="1388" font-size="36" font-weight="normal" textLength="79.60" lengthAdjust="spacingAndGlyphs">recD</text>
<text x="638.07" y="1434.9" font-size="36" font-weight="normal" textLength="78.87" lengthAdjust="spacingAndGlyphs">recN</text>
<text x="1019.66" y="1518.4" font-size="36" font-weight="normal" textLength="68.01" lengthAdjust="spacingAndGlyphs">recJ</text>
<text x="0" y="0" font-size="36" textLength="241.99" lengthAdjust="spacingAndGlyphs" transform="translate(83.6,1579.69) rotate(-90)">Allele frequency</text>
<rect x="9.3" y="1758.6" width="1295.4" height="734.7" fill="none" stroke="#231F20" stroke-width="6.6"/>
<line x1="157.5" y1="1828.6" x2="157.5" y2="2285.2" stroke="#231F20" stroke-width="3"/>
<line x1="145.5" y1="2270.2" x2="157.5" y2="2270.2" stroke="#231F20" stroke-width="2.2"/>
<line x1="145.5" y1="2226.0" x2="157.5" y2="2226.0" stroke="#231F20" stroke-width="2.2"/>
<line x1="145.5" y1="2181.9" x2="157.5" y2="2181.9" stroke="#231F20" stroke-width="2.2"/>
<line x1="145.5" y1="2137.7" x2="157.5" y2="2137.7" stroke="#231F20" stroke-width="2.2"/>
<line x1="145.5" y1="2093.6" x2="157.5" y2="2093.6" stroke="#231F20" stroke-width="2.2"/>
<line x1="145.5" y1="2049.4" x2="157.5" y2="2049.4" stroke="#231F20" stroke-width="2.2"/>
<line x1="145.5" y1="2005.2" x2="157.5" y2="2005.2" stroke="#231F20" stroke-width="2.2"/>
<line x1="145.5" y1="1961.1" x2="157.5" y2="1961.1" stroke="#231F20" stroke-width="2.2"/>
<line x1="145.5" y1="1916.9" x2="157.5" y2="1916.9" stroke="#231F20" stroke-width="2.2"/>
<line x1="145.5" y1="1872.8" x2="157.5" y2="1872.8" stroke="#231F20" stroke-width="2.2"/>
<line x1="145.5" y1="1828.6" x2="157.5" y2="1828.6" stroke="#231F20" stroke-width="2.2"/>
<line x1="157.5" y1="2270.2" x2="1263.5" y2="2270.2" stroke="#231F20" stroke-width="2.2"/>
<line x1="266.6" y1="2271.7" x2="266.6" y2="2285.2" stroke="#231F20" stroke-width="3"/>
<line x1="376.0" y1="2271.7" x2="376.0" y2="2285.2" stroke="#231F20" stroke-width="3"/>
<line x1="485.5" y1="2271.7" x2="485.5" y2="2285.2" stroke="#231F20" stroke-width="3"/>
<line x1="594.9" y1="2271.7" x2="594.9" y2="2285.2" stroke="#231F20" stroke-width="3"/>
<line x1="704.3" y1="2271.7" x2="704.3" y2="2285.2" stroke="#231F20" stroke-width="3"/>
<line x1="813.7" y1="2271.7" x2="813.7" y2="2285.2" stroke="#231F20" stroke-width="3"/>
<line x1="923.1" y1="2271.7" x2="923.1" y2="2285.2" stroke="#231F20" stroke-width="3"/>
<line x1="1032.6" y1="2271.7" x2="1032.6" y2="2285.2" stroke="#231F20" stroke-width="3"/>
<line x1="1142.0" y1="2271.7" x2="1142.0" y2="2285.2" stroke="#231F20" stroke-width="3"/>
<line x1="1251.4" y1="2271.7" x2="1251.4" y2="2285.2" stroke="#231F20" stroke-width="3"/>
<polyline points="157.2,2270.2 180.0,2268.0 202.8,2270.2 225.6,2265.8 248.4,2263.6 271.2,2258.7 294.1,2219.9 316.9,2149.2 339.7,2079.4 362.5,2071.9 385.3,2077.7 408.1,2115.6 430.9,2217.2 453.7,2252.5 476.5,2265.8 499.3,2270.2 522.2,2270.2 545.0,2270.2 567.8,2270.2 590.6,2270.2 613.4,2270.2 636.2,2270.2 659.0,2270.2 681.8,2270.2 704.6,2270.2 727.5,2270.2 750.3,2270.2 773.1,2270.2 795.9,2270.2 818.7,2270.2 841.5,2270.2 864.3,2270.2 887.1,2270.2 909.9,2270.2 932.7,2270.2 955.5,2270.2 978.4,2270.2 1001.2,2270.2 1024.0,2270.2 1046.8,2270.2 1069.6,2270.2 1092.4,2270.2 1115.2,2270.2 1138.0,2270.2 1160.8,2270.2 1183.7,2270.2 1206.5,2270.2 1229.3,2270.2 1252.1,2270.2" fill="none" stroke="#BE1E2D" stroke-width="6.6" stroke-linejoin="round" stroke-linecap="round"/>
<polyline points="157.2,2270.2 180.0,2270.2 202.8,2270.2 225.6,2270.2 248.4,2270.2 271.2,2270.2 294.1,2265.8 316.9,2248.1 339.7,2222.1 362.5,2257.0 385.3,2259.6 408.1,2214.1 430.9,2207.1 453.7,2209.3 476.5,2230.0 499.3,2234.4 522.2,2255.2 545.0,2253.9 567.8,2264.5 590.6,2270.2 613.4,2270.2 636.2,2270.2 659.0,2270.2 681.8,2270.2 704.6,2270.2 727.5,2270.2 750.3,2270.2 773.1,2270.2 795.9,2270.2 818.7,2270.2 841.5,2270.2 864.3,2270.2 887.1,2270.2 909.9,2270.2 932.7,2270.2 955.5,2270.2 978.4,2270.2 1001.2,2270.2 1024.0,2270.2 1046.8,2270.2 1069.6,2270.2 1092.4,2270.2 1115.2,2270.2 1138.0,2270.2 1160.8,2270.2 1183.7,2270.2 1206.5,2270.2 1229.3,2270.2 1252.1,2270.2" fill="none" stroke="#BE1E2D" stroke-width="6.6" stroke-linejoin="round" stroke-linecap="round"/>
<polyline points="157.2,2270.2 180.0,2270.2 202.8,2270.2 225.6,2270.2 248.4,2270.2 271.2,2270.2 294.1,2270.2 316.9,2270.2 339.7,2270.2 362.5,2270.2 385.3,2265.8 408.1,2190.7 430.9,2036.2 453.7,1931.9 476.5,1886.0 499.3,1868.3 522.2,1845.4 545.0,1833.0 567.8,1833.0 590.6,1835.2 613.4,1830.8 636.2,1829.5 659.0,1835.2 681.8,1830.8 704.6,1830.8 727.5,1830.8 750.3,1833.9 773.1,1830.8 795.9,1830.8 818.7,1830.8 841.5,1830.8 864.3,1830.8 887.1,1830.8 909.9,1830.8 932.7,1830.8 955.5,1830.8 978.4,1830.8 1001.2,1830.8 1024.0,1830.8 1046.8,1830.8 1069.6,1830.8 1092.4,1830.8 1115.2,1830.8 1138.0,1830.8 1160.8,1830.8 1183.7,1830.8 1206.5,1830.8 1229.3,1830.8 1252.1,1830.8" fill="none" stroke="#BE1E2D" stroke-width="6.6" stroke-linejoin="round" stroke-linecap="round"/>
<polyline points="157.2,2270.2 180.0,2270.2 202.8,2270.2 225.6,2265.8 248.4,2258.7 271.2,2249.4 294.1,2242.8 316.9,2206.2 339.7,2215.0 362.5,2257.0 385.3,2248.1 408.1,2223.8 430.9,2208.4 453.7,2197.8 476.5,2214.1 499.3,2245.9 522.2,2253.0 545.0,2264.5 567.8,2259.6 590.6,2261.4 613.4,2265.8 636.2,2268.0 659.0,2268.1 681.8,2268.2 704.6,2268.2 727.5,2268.3 750.3,2268.4 773.1,2268.5 795.9,2268.6 818.7,2268.6 841.5,2268.7 864.3,2268.8 887.1,2268.9 909.9,2269.0 932.7,2269.1 955.5,2269.1 978.4,2269.2 1001.2,2269.3 1024.0,2269.4 1046.8,2269.5 1069.6,2269.5 1092.4,2269.6 1115.2,2269.7 1138.0,2269.8 1160.8,2269.9 1183.7,2270.0 1206.5,2270.0 1229.3,2270.1 1252.1,2270.2" fill="none" stroke="#FCB817" stroke-width="6.6" stroke-linejoin="round" stroke-linecap="round"/>
<polyline points="157.2,2270.2 180.0,2270.2 202.8,2270.2 225.6,2270.2 248.4,2270.2 271.2,2270.2 294.1,2265.8 316.9,2249.9 339.7,2162.9 362.5,2075.9 385.3,2049.4 408.1,2075.9 430.9,2243.7 453.7,2261.4 476.5,2270.2 499.3,2270.2 522.2,2270.2 545.0,2270.2 567.8,2270.2 590.6,2270.2 613.4,2270.2 636.2,2270.2 659.0,2270.2 681.8,2270.2 704.6,2270.2 727.5,2270.2 750.3,2270.2 773.1,2270.2 795.9,2270.2 818.7,2270.2 841.5,2270.2 864.3,2270.2 887.1,2270.2 909.9,2270.2 932.7,2270.2 955.5,2270.2 978.4,2270.2 1001.2,2270.2 1024.0,2270.2 1046.8,2270.2 1069.6,2270.2 1092.4,2270.2 1115.2,2270.2 1138.0,2270.2 1160.8,2270.2 1183.7,2270.2 1206.5,2270.2 1229.3,2270.2 1252.1,2270.2" fill="none" stroke="#FCB817" stroke-width="6.6" stroke-linejoin="round" stroke-linecap="round"/>
<polyline points="157.2,2270.2 180.0,2270.2 202.8,2270.2 225.6,2270.2 248.4,2270.2 271.2,2270.2 294.1,2270.2 316.9,2270.2 339.7,2270.2 362.5,2270.2 385.3,2265.8 408.1,2181.9 430.9,2014.5 453.7,1911.6 476.5,1876.3 499.3,1861.3 522.2,1839.6 545.0,1836.1 567.8,1830.4 590.6,1839.6 613.4,1829.0 636.2,1828.6 659.0,1828.7 681.8,1828.8 704.6,1828.8 727.5,1828.9 750.3,1829.0 773.1,1829.1 795.9,1829.2 818.7,1829.3 841.5,1829.3 864.3,1829.4 887.1,1829.5 909.9,1829.6 932.7,1829.7 955.5,1829.7 978.4,1829.8 1001.2,1829.9 1024.0,1830.0 1046.8,1830.1 1069.6,1830.2 1092.4,1830.2 1115.2,1830.3 1138.0,1830.4 1160.8,1830.5 1183.7,1830.6 1206.5,1830.6 1229.3,1830.7 1252.1,1830.8" fill="none" stroke="#FCB817" stroke-width="6.6" stroke-linejoin="round" stroke-linecap="round"/>
<polyline points="157.2,2270.2 180.0,2270.2 202.8,2270.2 225.6,2270.2 248.4,2270.2 271.2,2270.2 294.1,2270.2 316.9,2270.2 339.7,2270.2 362.5,2270.2 385.3,2270.2 408.1,2270.2 430.9,2270.2 453.7,2270.2 476.5,2270.2 499.3,2270.2 522.2,2270.2 545.0,2270.2 567.8,2270.2 590.6,2270.2 613.4,2270.2 636.2,2270.2 659.0,2270.2 681.8,2270.2 704.6,2270.2 727.5,2270.2 750.3,2270.2 773.1,2270.2 795.9,2270.2 818.7,2270.2 841.5,2270.2 864.3,2270.2 887.1,2270.2 909.9,2270.2 932.7,2270.2 955.5,2270.2 978.4,2270.2 1001.2,2270.2 1024.0,2270.2 1046.8,2270.2 1069.6,2270.2 1092.4,2270.2 1115.2,2270.2 1138.0,2270.2 1160.8,2262.7 1183.7,2249.0 1206.5,2202.2 1229.3,2219.0 1252.1,2230.0" fill="none" stroke="#FCB817" stroke-width="6.6" stroke-linejoin="round" stroke-linecap="round"/>
<polyline points="157.2,2270.2 180.0,2270.2 202.8,2270.2 225.6,2270.2 248.4,2270.2 271.2,2270.2 294.1,2270.2 316.9,2270.2 339.7,2270.2 362.5,2270.2 385.3,2270.2 408.1,2270.2 430.9,2270.2 453.7,2270.2 476.5,2270.2 499.3,2270.2 522.2,2270.2 545.0,2270.2 567.8,2270.2 590.6,2270.2 613.4,2270.2 636.2,2270.2 659.0,2270.2 681.8,2270.2 704.6,2270.2 727.5,2270.2 750.3,2264.5 773.1,2234.4 795.9,2192.0 818.7,2049.4 841.5,1968.6 864.3,1918.7 887.1,1863.5 909.9,1844.1 932.7,1838.3 955.5,1833.0 978.4,1830.8 1001.2,1831.0 1024.0,1831.2 1046.8,1831.4 1069.6,1831.5 1092.4,1831.7 1115.2,1831.9 1138.0,1832.1 1160.8,1832.3 1183.7,1832.5 1206.5,1832.6 1229.3,1832.8 1252.1,1833.0" fill="none" stroke="#ED1C24" stroke-width="6.6" stroke-linejoin="round" stroke-linecap="round"/>
<polyline points="157.2,2270.2 180.0,2270.2 202.8,2270.2 225.6,2270.2 248.4,2270.2 271.2,2270.2 294.1,2270.2 316.9,2270.2 339.7,2270.2 362.5,2270.2 385.3,2270.2 408.1,2270.2 430.9,2270.2 453.7,2270.2 476.5,2270.2 499.3,2270.2 522.2,2270.2 545.0,2270.2 567.8,2270.2 590.6,2270.2 613.4,2270.2 636.2,2270.2 659.0,2270.2 681.8,2270.2 704.6,2270.2 727.5,2270.2 750.3,2270.2 773.1,2270.2 795.9,2270.2 818.7,2270.2 841.5,2270.2 864.3,2270.2 887.1,2270.2 909.9,2270.2 932.7,2270.2 955.5,2270.2 978.4,2270.2 1001.2,2270.2 1024.0,2270.2 1046.8,2270.2 1069.6,2270.2 1092.4,2270.2 1115.2,2270.2 1138.0,2270.2 1160.8,2252.5 1183.7,2227.4 1206.5,2230.9 1229.3,2247.7 1252.1,2256.1" fill="none" stroke="#ED1C24" stroke-width="6.6" stroke-linejoin="round" stroke-linecap="round"/>
<polyline points="157.2,2270.2 180.0,2270.2 202.8,2270.2 225.6,2270.2 248.4,2270.2 271.2,2270.2 294.1,2270.2 316.9,2270.2 339.7,2270.2 362.5,2270.2 385.3,2270.2 408.1,2270.2 430.9,2270.2 453.7,2270.2 476.5,2270.2 499.3,2270.2 522.2,2270.2 545.0,2270.2 567.8,2270.2 590.6,2270.2 613.4,2270.2 636.2,2270.2 659.0,2270.2 681.8,2270.2 704.6,2270.2 727.5,2270.2 750.3,2270.2 773.1,2270.2 795.9,2270.2 818.7,2270.2 841.5,2266.7 864.3,2265.8 887.1,2261.8 909.9,2260.9 932.7,2227.8 955.5,1933.3 978.4,1850.7 1001.2,1841.4 1024.0,1833.0 1046.8,1833.0 1069.6,1833.0 1092.4,1837.4 1115.2,1833.0 1138.0,1833.0 1160.8,1833.0 1183.7,1833.0 1206.5,1833.0 1229.3,1834.8 1252.1,1833.0" fill="none" stroke="#2BAAE2" stroke-width="6.6" stroke-linejoin="round" stroke-linecap="round"/>
<polyline points="157.2,2270.2 180.0,2270.2 202.8,2270.2 225.6,2270.2 248.4,2270.2 271.2,2270.2 294.1,2270.2 316.9,2270.2 339.7,2270.2 362.5,2270.2 385.3,2270.2 408.1,2270.2 430.9,2270.2 453.7,2270.2 476.5,2270.2 499.3,2270.2 522.2,2270.2 545.0,2270.2 567.8,2270.2 590.6,2270.2 613.4,2270.2 636.2,2270.2 659.0,2270.2 681.8,2270.2 704.6,2270.2 727.5,2270.2 750.3,2270.2 773.1,2270.2 795.9,2270.2 818.7,2270.2 841.5,2270.2 864.3,2270.2 887.1,2270.2 909.9,2270.2 932.7,2270.2 955.5,2270.2 978.4,2270.2 1001.2,2270.2 1024.0,2270.2 1046.8,2270.2 1069.6,2265.8 1092.4,2249.0 1115.2,2195.6 1138.0,2173.5 1160.8,2211.5 1183.7,2204.0 1206.5,2223.8 1229.3,2160.2 1252.1,2163.8" fill="none" stroke="#2BAAE2" stroke-width="6.6" stroke-linejoin="round" stroke-linecap="round"/>
<polyline points="157.2,2270.2 180.0,2270.2 202.8,2270.2 225.6,2265.8 248.4,2252.5 271.2,2236.2 294.1,2229.1 316.9,2249.4 339.7,2265.8 362.5,2270.2 385.3,2270.2 408.1,2270.2 430.9,2270.2 453.7,2270.2 476.5,2270.2 499.3,2270.2 522.2,2270.2 545.0,2270.2 567.8,2270.2 590.6,2270.2 613.4,2270.2 636.2,2270.2 659.0,2270.2 681.8,2270.2 704.6,2270.2 727.5,2270.2 750.3,2270.2 773.1,2270.2 795.9,2270.2 818.7,2270.2 841.5,2270.2 864.3,2270.2 887.1,2270.2 909.9,2270.2 932.7,2270.2 955.5,2270.2 978.4,2270.2 1001.2,2270.2 1024.0,2270.2 1046.8,2270.2 1069.6,2270.2 1092.4,2270.2 1115.2,2270.2 1138.0,2270.2 1160.8,2270.2 1183.7,2270.2 1206.5,2270.2 1229.3,2270.2 1252.1,2270.2" fill="none" stroke="#8DC63F" stroke-width="6.6" stroke-linejoin="round" stroke-linecap="round"/>
<polyline points="157.2,2270.2 180.0,2270.2 202.8,2270.2 225.6,2270.2 248.4,2270.2 271.2,2270.2 294.1,2270.2 316.9,2270.2 339.7,2270.2 362.5,2270.2 385.3,2270.2 408.1,2270.2 430.9,2270.2 453.7,2270.2 476.5,2270.2 499.3,2270.2 522.2,2270.2 545.0,2270.2 567.8,2270.2 590.6,2270.2 613.4,2265.8 636.2,2255.2 659.0,2248.1 681.8,2249.4 704.6,2233.5 727.5,2236.6 750.3,2245.9 773.1,2234.4 795.9,2247.2 818.7,2261.8 841.5,2265.3 864.3,2267.6 887.1,2270.2 909.9,2270.2 932.7,2270.2 955.5,2270.2 978.4,2270.2 1001.2,2270.2 1024.0,2270.2 1046.8,2270.2 1069.6,2270.2 1092.4,2270.2 1115.2,2270.2 1138.0,2270.2 1160.8,2270.2 1183.7,2270.2 1206.5,2270.2 1229.3,2270.2 1252.1,2270.2" fill="none" stroke="#8DC63F" stroke-width="6.6" stroke-linejoin="round" stroke-linecap="round"/>
<polyline points="157.2,2270.2 180.0,2270.2 202.8,2270.2 225.6,2270.2 248.4,2270.2 271.2,2270.2 294.1,2270.2 316.9,2270.2 339.7,2270.2 362.5,2270.2 385.3,2270.2 408.1,2270.2 430.9,2270.2 453.7,2270.2 476.5,2270.2 499.3,2270.2 522.2,2270.2 545.0,2270.2 567.8,2270.2 590.6,2270.2 613.4,2270.2 636.2,2270.2 659.0,2270.2 681.8,2270.2 704.6,2270.2 727.5,2270.2 750.3,2270.2 773.1,2270.2 795.9,2270.2 818.7,2270.2 841.5,2270.2 864.3,2270.2 887.1,2270.2 909.9,2270.2 932.7,2270.2 955.5,2270.2 978.4,2270.2 1001.2,2270.2 1024.0,2270.2 1046.8,2270.2 1069.6,2260.9 1092.4,2242.4 1115.2,2249.0 1138.0,2244.1 1160.8,2219.0 1183.7,2226.0 1206.5,2172.2 1229.3,2153.6 1252.1,2175.3" fill="none" stroke="#8DC63F" stroke-width="6.6" stroke-linejoin="round" stroke-linecap="round"/>
<polyline points="157.2,2270.2 180.0,2270.2 202.8,2270.2 225.6,2270.2 248.4,2270.2 271.2,2270.2 294.1,2270.2 316.9,2270.2 339.7,2270.2 362.5,2270.2 385.3,2270.2 408.1,2270.2 430.9,2270.2 453.7,2270.2 476.5,2270.2 499.3,2270.2 522.2,2270.2 545.0,2270.2 567.8,2270.2 590.6,2270.2 613.4,2270.2 636.2,2270.2 659.0,2270.2 681.8,2270.2 704.6,2270.2 727.5,2270.2 750.3,2270.2 773.1,2270.2 795.9,2270.2 818.7,2270.2 841.5,2270.2 864.3,2270.2 887.1,2270.2 909.9,2270.2 932.7,2270.2 955.5,2270.2 978.4,2270.2 1001.2,2270.2 1024.0,2270.2 1046.8,2270.2 1069.6,2270.2 1092.4,2270.2 1115.2,2259.2 1138.0,2257.0 1160.8,2254.3 1183.7,2262.7 1206.5,2256.1 1229.3,2234.0 1252.1,2208.8" fill="none" stroke="#8DC63F" stroke-width="6.6" stroke-linejoin="round" stroke-linecap="round"/>
<polyline points="157.2,2270.2 180.0,2270.2 202.8,2270.2 225.6,2270.2 248.4,2270.2 271.2,2270.2 294.1,2270.2 316.9,2270.2 339.7,2270.2 362.5,2270.2 385.3,2270.2 408.1,2270.2 430.9,2270.2 453.7,2270.2 476.5,2270.2 499.3,2270.2 522.2,2270.2 545.0,2270.2 567.8,2270.2 590.6,2270.2 613.4,2270.2 636.2,2270.2 659.0,2270.2 681.8,2270.2 704.6,2270.2 727.5,2270.2 750.3,2270.2 773.1,2270.2 795.9,2270.2 818.7,2270.2 841.5,2270.2 864.3,2270.2 887.1,2270.2 909.9,2270.2 932.7,2270.2 955.5,2270.2 978.4,2270.2 1001.2,2270.2 1024.0,2270.2 1046.8,2270.2 1069.6,2270.2 1092.4,2270.2 1115.2,2270.2 1138.0,2270.2 1160.8,2270.2 1183.7,2265.8 1206.5,2250.8 1229.3,2247.7 1252.1,2242.4" fill="none" stroke="#8DC63F" stroke-width="6.6" stroke-linejoin="round" stroke-linecap="round"/>
<polyline points="157.2,2270.2 180.0,2270.2 202.8,2270.2 225.6,2270.2 248.4,2270.2 271.2,2270.2 294.1,2270.2 316.9,2270.2 339.7,2270.2 362.5,2270.2 385.3,2270.2 408.1,2270.2 430.9,2270.2 453.7,2270.2 476.5,2270.2 499.3,2270.2 522.2,2270.2 545.0,2265.3 567.8,2255.2 590.6,2192.0 613.4,2202.6 636.2,2226.0 659.0,2240.2 681.8,2228.7 704.6,2169.1 727.5,2138.6 750.3,2153.2 773.1,2094.9 795.9,2053.8 818.7,1925.3 841.5,1910.3 864.3,1875.0 887.1,1852.0 909.9,1839.6 932.7,1831.2 955.5,1831.2 978.4,1831.2 1001.2,1831.2 1024.0,1831.1 1046.8,1831.1 1069.6,1831.1 1092.4,1831.0 1115.2,1831.0 1138.0,1831.0 1160.8,1830.9 1183.7,1830.9 1206.5,1830.9 1229.3,1830.8 1252.1,1830.8" fill="none" stroke="#8DC63F" stroke-width="6.6" stroke-linejoin="round" stroke-linecap="round"/>
<polyline points="157.2,2272.4 180.0,2272.4 202.8,2272.4 225.6,2265.8 248.4,2224.3 271.2,2149.2 294.1,2074.6 316.9,2033.9 339.7,1998.6 362.5,2080.3 385.3,2037.0 408.1,2111.2 430.9,2177.5 453.7,2245.9 476.5,2263.1 499.3,2268.0 522.2,2270.2 545.0,2270.2 567.8,2270.2 590.6,2270.2 613.4,2270.2 636.2,2270.2 659.0,2270.2 681.8,2270.2 704.6,2270.2 727.5,2270.2 750.3,2270.2 773.1,2270.2 795.9,2270.2 818.7,2270.2 841.5,2270.2 864.3,2270.2 887.1,2270.2 909.9,2270.2 932.7,2270.2 955.5,2270.2 978.4,2270.2 1001.2,2270.2 1024.0,2270.2 1046.8,2270.2 1069.6,2265.8 1092.4,2235.8 1115.2,2205.7 1138.0,2143.5 1160.8,2215.4 1183.7,2155.4 1206.5,2215.4 1229.3,2147.9 1252.1,2188.9" fill="none" stroke="#0AAE4F" stroke-width="6.6" stroke-linejoin="round" stroke-linecap="round"/>
<polyline points="157.2,2270.2 180.0,2270.2 202.8,2270.2 225.6,2270.2 248.4,2270.2 271.2,2270.2 294.1,2270.2 316.9,2270.2 339.7,2270.2 362.5,2270.2 385.3,2270.2 408.1,2270.2 430.9,2270.2 453.7,2270.2 476.5,2270.2 499.3,2270.2 522.2,2270.2 545.0,2270.2 567.8,2270.2 590.6,2270.2 613.4,2270.2 636.2,2270.2 659.0,2270.2 681.8,2270.2 704.6,2270.2 727.5,2270.2 750.3,2270.2 773.1,2270.2 795.9,2270.2 818.7,2270.2 841.5,2270.2 864.3,2270.2 887.1,2270.2 909.9,2270.2 932.7,2270.2 955.5,2270.2 978.4,2270.2 1001.2,2270.2 1024.0,2270.2 1046.8,2270.2 1069.6,2270.2 1092.4,2268.0 1115.2,2263.6 1138.0,2259.2 1160.8,2240.6 1183.7,2208.8 1206.5,2217.2 1229.3,2214.1 1252.1,2202.2" fill="none" stroke="#0AAE4F" stroke-width="6.6" stroke-linejoin="round" stroke-linecap="round"/>
<polyline points="157.2,2270.2 180.0,2269.1 202.8,2268.0 225.6,2270.2 248.4,2270.2 271.2,2270.2 294.1,2270.2 316.9,2270.2 339.7,2270.2 362.5,2270.2 385.3,2270.2 408.1,2270.2 430.9,2270.2 453.7,2270.2 476.5,2265.3 499.3,2245.9 522.2,2216.3 545.0,2209.3 567.8,2208.4 590.6,2247.2 613.4,2265.3 636.2,2266.7 659.0,2268.9 681.8,2268.1 704.6,2267.3 727.5,2266.6 750.3,2265.8 773.1,2270.2 795.9,2270.1 818.7,2270.0 841.5,2269.9 864.3,2269.8 887.1,2269.7 909.9,2269.6 932.7,2269.5 955.5,2269.4 978.4,2269.3 1001.2,2269.1 1024.0,2269.0 1046.8,2268.9 1069.6,2268.8 1092.4,2268.7 1115.2,2268.6 1138.0,2268.5 1160.8,2268.4 1183.7,2268.3 1206.5,2268.2 1229.3,2268.1 1252.1,2268.0" fill="none" stroke="#6B3A97" stroke-width="6.6" stroke-linejoin="round" stroke-linecap="round"/>
<text x="19.89" y="1817.8" font-size="48.3" font-weight="bold" textLength="32.19" lengthAdjust="spacingAndGlyphs">D</text>
<text x="192.53" y="1821.3" font-size="36" font-weight="normal" textLength="70.00" lengthAdjust="spacingAndGlyphs">IR12</text>
<text x="96.62" y="1839" font-size="35.5" font-weight="normal" textLength="44.07" lengthAdjust="spacingAndGlyphs">1.0</text>
<text x="95.22" y="2059" font-size="35.5" font-weight="normal" textLength="44.57" lengthAdjust="spacingAndGlyphs">0.5</text>
<text x="94.99" y="2279" font-size="35.5" font-weight="normal" textLength="45.55" lengthAdjust="spacingAndGlyphs">0.0</text>
<text x="247.01" y="1997.3" font-size="36" font-weight="normal" textLength="82.92" lengthAdjust="spacingAndGlyphs">rpoC</text>
<text x="366.05" y="1907" font-size="36" font-weight="normal" textLength="79.70" lengthAdjust="spacingAndGlyphs">recD</text>
<text x="361.54" y="1950.4" font-size="36" font-weight="normal" textLength="79.83" lengthAdjust="spacingAndGlyphs">recN</text>
<text x="194.41" y="2084.9" font-size="36" font-weight="normal" textLength="80.97" lengthAdjust="spacingAndGlyphs">recD</text>
<text x="192.14" y="2129.5" font-size="36" font-weight="normal" textLength="79.94" lengthAdjust="spacingAndGlyphs">recN</text>
<text x="759.87" y="1907" font-size="36" font-weight="normal" textLength="82.38" lengthAdjust="spacingAndGlyphs">rpoB</text>
<text x="813.86" y="2165.9" font-size="36" font-weight="normal" textLength="67.90" lengthAdjust="spacingAndGlyphs">recJ</text>
<text x="977.04" y="1907.6" font-size="36" font-weight="normal" textLength="80.55" lengthAdjust="spacingAndGlyphs">atpA</text>
<text x="525.86" y="2367.2" font-size="36" font-weight="normal" textLength="295.41" lengthAdjust="spacingAndGlyphs">Round of selection</text>
<text x="145.14" y="2311.3" font-size="35.5" font-weight="normal" textLength="23.06" lengthAdjust="spacingAndGlyphs">0</text>
<text x="249.24" y="2311.3" font-size="35.5" font-weight="normal" textLength="40.93" lengthAdjust="spacingAndGlyphs">10</text>
<text x="356.86" y="2311.3" font-size="35.5" font-weight="normal" textLength="43.19" lengthAdjust="spacingAndGlyphs">20</text>
<text x="467.32" y="2311.3" font-size="35.5" font-weight="normal" textLength="40.95" lengthAdjust="spacingAndGlyphs">30</text>
<text x="576.27" y="2311.3" font-size="35.5" font-weight="normal" textLength="40.79" lengthAdjust="spacingAndGlyphs">40</text>
<text x="685.01" y="2311.3" font-size="35.5" font-weight="normal" textLength="41.48" lengthAdjust="spacingAndGlyphs">50</text>
<text x="794.12" y="2311.3" font-size="35.5" font-weight="normal" textLength="41.88" lengthAdjust="spacingAndGlyphs">60</text>
<text x="903.52" y="2311.3" font-size="35.5" font-weight="normal" textLength="41.88" lengthAdjust="spacingAndGlyphs">70</text>
<text x="1013.21" y="2311.3" font-size="35.5" font-weight="normal" textLength="41.58" lengthAdjust="spacingAndGlyphs">80</text>
<text x="1124.67" y="2311.3" font-size="35.5" font-weight="normal" textLength="40.59" lengthAdjust="spacingAndGlyphs">90</text>
<text x="1224.02" y="2311.3" font-size="35.5" font-weight="normal" textLength="61.80" lengthAdjust="spacingAndGlyphs">100</text>
<text x="376.82" y="2416.3" font-size="36" font-weight="normal" textLength="80.55" lengthAdjust="spacingAndGlyphs">recD</text>
<text x="576.82" y="2416.3" font-size="36" font-weight="normal" textLength="69.09" lengthAdjust="spacingAndGlyphs">recJ</text>
<text x="769.23" y="2416.3" font-size="36" font-weight="normal" textLength="80.37" lengthAdjust="spacingAndGlyphs">recN</text>
<text x="965.39" y="2416.3" font-size="36" font-weight="normal" textLength="81.42" lengthAdjust="spacingAndGlyphs">rpoB</text>
<text x="376.18" y="2464.2" font-size="36" font-weight="normal" textLength="83.97" lengthAdjust="spacingAndGlyphs">rpoC</text>
<text x="574.42" y="2464.2" font-size="36" font-weight="normal" textLength="81.16" lengthAdjust="spacingAndGlyphs">atpA</text>
<text x="767.03" y="2464.2" font-size="36" font-weight="normal" textLength="84.03" lengthAdjust="spacingAndGlyphs">cadA</text>
<text x="967.46" y="2464.2" font-size="36" font-weight="normal" textLength="77.58" lengthAdjust="spacingAndGlyphs">sufD</text>
<text x="0" y="0" font-size="36" textLength="241.99" lengthAdjust="spacingAndGlyphs" transform="translate(83.6,2145.89) rotate(-90)">Allele frequency</text>
<line x1="277" y1="2074.6" x2="322.1" y2="2115.8" stroke="#231F20" stroke-width="2.2"/>
<line x1="273.6" y1="2122.7" x2="331.9" y2="2174.2" stroke="#231F20" stroke-width="2.2"/>
<line x1="157.2" y1="2270.2" x2="157.2" y2="2284" stroke="#231F20" stroke-width="3"/>
<line x1="326.7" y1="2408.5" x2="372.7" y2="2408.5" stroke="#BE1E2D" stroke-width="10.5" stroke-linecap="round"/>
<line x1="525" y1="2408.7" x2="571" y2="2408.7" stroke="#ED1C24" stroke-width="10.5" stroke-linecap="round"/>
<line x1="717.5" y1="2408.7" x2="763.5" y2="2408.7" stroke="#FCB817" stroke-width="10.5" stroke-linecap="round"/>
<line x1="914.3" y1="2408.7" x2="960.3" y2="2408.7" stroke="#8DC63F" stroke-width="10.5" stroke-linecap="round"/>
<line x1="325" y1="2455.1" x2="371" y2="2455.1" stroke="#0AAE4F" stroke-width="10.5" stroke-linecap="round"/>
<line x1="523.5" y1="2455.7" x2="569.5" y2="2455.7" stroke="#2BAAE2" stroke-width="10.5" stroke-linecap="round"/>
<line x1="716" y1="2455.7" x2="762" y2="2455.7" stroke="#1D71B8" stroke-width="10.5" stroke-linecap="round"/>
<line x1="915.8" y1="2455.7" x2="961.8" y2="2455.7" stroke="#6B3A97" stroke-width="10.5" stroke-linecap="round"/>
</svg></body></html>
